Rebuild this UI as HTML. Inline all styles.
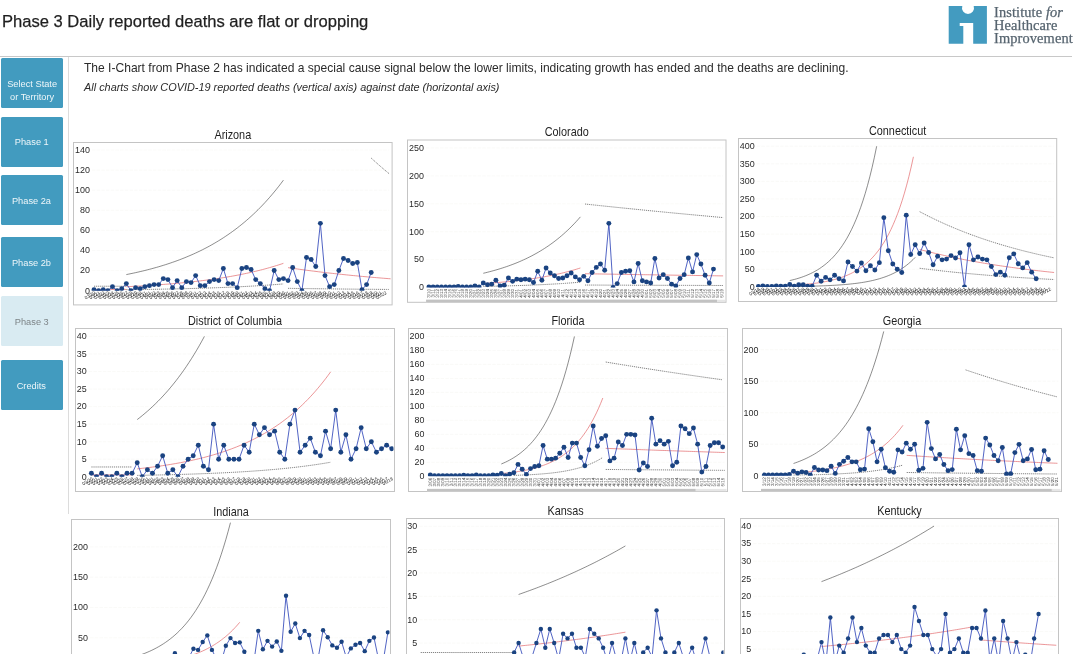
<!DOCTYPE html>
<html lang="en">
<head>
<meta charset="utf-8">
<title>Phase 3 Daily reported deaths are flat or dropping</title>
<style>
html,body{margin:0;padding:0;background:#fff;}
body{width:1080px;height:654px;overflow:hidden;position:relative;font-family:"Liberation Sans",sans-serif;color:#252423;}
.title{position:absolute;left:2.2px;top:11.3px;font-size:17.4px;line-height:20px;white-space:nowrap;color:#1f1f1f;-webkit-text-stroke:0.25px #1f1f1f;transform:scaleX(0.952);transform-origin:0 0;}
.hr{position:absolute;left:0;top:55.5px;width:1072px;height:1px;background:#c8c8c8;}
.vr{position:absolute;left:67.5px;top:57px;width:1.2px;height:456.5px;background:#dcdcdc;}
.btn{position:absolute;left:0.8px;width:61.8px;height:50.1px;border-radius:1.5px;background:#429bbf;color:#eef6f9;font-size:9.7px;line-height:13.5px;text-align:center;display:flex;align-items:center;justify-content:center;}
.btn span{display:block;transform:scaleX(0.955);white-space:nowrap;position:relative;top:0.7px;}
.btn.sel{background:#d9ebf2;color:#7d8487;}
.p1{position:absolute;left:84px;top:61.2px;font-size:12.2px;line-height:14px;white-space:nowrap;color:#2b2b2b;transform:scaleX(0.989);transform-origin:0 0;}
.p2{position:absolute;left:84px;top:81.2px;font-size:11.2px;line-height:13px;white-space:nowrap;font-style:italic;color:#2b2b2b;transform:scaleX(0.974);transform-origin:0 0;}
.logo{position:absolute;left:940px;top:0;}
.lt{position:absolute;left:994px;top:5.6px;font-family:"Liberation Serif",serif;font-size:14.4px;line-height:13.3px;letter-spacing:0.12px;color:#56646f;white-space:nowrap;-webkit-text-stroke:0.25px #56646f;}
.lt i{letter-spacing:0;}
svg.charts{position:absolute;left:0;top:0;}
.ct{font-size:12.2px;fill:#1f1f1f;font-family:"Liberation Sans",sans-serif;}
.yl{font-size:9.5px;fill:#2a2a2a;font-family:"Liberation Sans",sans-serif;}
.xl{font-size:4.6px;fill:#1a1a1a;text-rendering:geometricPrecision;font-family:"Liberation Sans",sans-serif;}
.xv{font-size:4.5px;fill:#3a3a3a;text-rendering:geometricPrecision;font-family:"Liberation Sans",sans-serif;}
.g{stroke:#f7f6f4;stroke-width:0.6;stroke-dasharray:3.5 1.2;}
.ul,.ll{fill:none;stroke:#2e2e2e;stroke-width:0.55;}
.cl{fill:none;stroke:#e2696b;stroke-width:0.7;}
.dt{stroke-dasharray:1.2 0.84;stroke-width:0.75;stroke:#5a5a5a;}
.dl{fill:none;stroke:#3d52bd;stroke-width:0.9;stroke-linejoin:round;}
circle{fill:#1a4381;}
</style>
</head>
<body>
<div class="title">Phase 3 Daily reported deaths are flat or dropping</div>
<svg class="logo" width="140" height="56" viewBox="940 0 140 56" aria-label="Institute for Healthcare Improvement logo">
<path fill="#439bc0" d="M948.7 6.1H962.3A6 6 0 1 0 973.7 6.1H986.9V43.7H973.2V23.1H959.7V26H963.3V43.7H948.7Z"/>
</svg>
<div class="lt">Institute <i>for</i><br>Healthcare<br>Improvement</div>
<div class="hr"></div>
<div class="vr"></div>

<div class="btn" style="top:57.8px"><span style="position:relative;top:7.6px">Select State<br>or Territory</span></div>
<div class="btn" style="top:116.5px"><span>Phase 1</span></div>
<div class="btn" style="top:175.2px"><span>Phase 2a</span></div>
<div class="btn" style="top:236.7px"><span>Phase 2b</span></div>
<div class="btn sel" style="top:296px"><span>Phase 3</span></div>
<div class="btn" style="top:360.3px"><span>Credits</span></div>
<div class="p1">The I-Chart from Phase 2 has indicated a special cause signal below the lower limits, indicating growth has ended and the deaths are declining.</div>
<div class="p2">All charts show COVID-19 reported deaths (vertical axis) against date (horizontal axis)</div>
<svg class="charts" width="1080" height="654" viewBox="0 0 1080 654">
<g>
<clipPath id="c0"><rect x="73.5" y="143.5" width="317.6" height="147.15"/></clipPath>
<text class="ct" transform="translate(232.8,138.9) scale(0.89,1)" text-anchor="middle">Arizona</text>
<rect x="73.5" y="142.5" width="318.6" height="162.4" fill="#fff" stroke="#c4c4c4" stroke-width="1"/>
<text class="yl" transform="translate(89.9,293.5) scale(0.94,1)" text-anchor="end">0</text>
<line class="g" x1="91.9" x2="389.1" y1="270.56" y2="270.56"/>
<text class="yl" transform="translate(89.9,273.41) scale(0.94,1)" text-anchor="end">20</text>
<line class="g" x1="91.9" x2="389.1" y1="250.47" y2="250.47"/>
<text class="yl" transform="translate(89.9,253.32) scale(0.94,1)" text-anchor="end">40</text>
<line class="g" x1="91.9" x2="389.1" y1="230.38" y2="230.38"/>
<text class="yl" transform="translate(89.9,233.23) scale(0.94,1)" text-anchor="end">60</text>
<line class="g" x1="91.9" x2="389.1" y1="210.29" y2="210.29"/>
<text class="yl" transform="translate(89.9,213.14) scale(0.94,1)" text-anchor="end">80</text>
<line class="g" x1="91.9" x2="389.1" y1="190.2" y2="190.2"/>
<text class="yl" transform="translate(89.9,193.05) scale(0.94,1)" text-anchor="end">100</text>
<line class="g" x1="91.9" x2="389.1" y1="170.11" y2="170.11"/>
<text class="yl" transform="translate(89.9,172.96) scale(0.94,1)" text-anchor="end">120</text>
<line class="g" x1="91.9" x2="389.1" y1="150.02" y2="150.02"/>
<text class="yl" transform="translate(89.9,152.87) scale(0.94,1)" text-anchor="end">140</text>
<text class="xl" text-anchor="end" transform="translate(95.8,293.65) rotate(-30)">03/20</text>
<text class="xl" text-anchor="end" transform="translate(100.42,293.65) rotate(-30)">03/21</text>
<text class="xl" text-anchor="end" transform="translate(105.04,293.65) rotate(-30)">03/22</text>
<text class="xl" text-anchor="end" transform="translate(109.66,293.65) rotate(-30)">03/23</text>
<text class="xl" text-anchor="end" transform="translate(114.28,293.65) rotate(-30)">03/24</text>
<text class="xl" text-anchor="end" transform="translate(118.9,293.65) rotate(-30)">03/25</text>
<text class="xl" text-anchor="end" transform="translate(123.52,293.65) rotate(-30)">03/26</text>
<text class="xl" text-anchor="end" transform="translate(128.14,293.65) rotate(-30)">03/27</text>
<text class="xl" text-anchor="end" transform="translate(132.76,293.65) rotate(-30)">03/28</text>
<text class="xl" text-anchor="end" transform="translate(137.38,293.65) rotate(-30)">03/29</text>
<text class="xl" text-anchor="end" transform="translate(142,293.65) rotate(-30)">03/30</text>
<text class="xl" text-anchor="end" transform="translate(146.62,293.65) rotate(-30)">03/31</text>
<text class="xl" text-anchor="end" transform="translate(151.24,293.65) rotate(-30)">04/01</text>
<text class="xl" text-anchor="end" transform="translate(155.86,293.65) rotate(-30)">04/02</text>
<text class="xl" text-anchor="end" transform="translate(160.48,293.65) rotate(-30)">04/03</text>
<text class="xl" text-anchor="end" transform="translate(165.1,293.65) rotate(-30)">04/04</text>
<text class="xl" text-anchor="end" transform="translate(169.72,293.65) rotate(-30)">04/05</text>
<text class="xl" text-anchor="end" transform="translate(174.34,293.65) rotate(-30)">04/06</text>
<text class="xl" text-anchor="end" transform="translate(178.96,293.65) rotate(-30)">04/07</text>
<text class="xl" text-anchor="end" transform="translate(183.58,293.65) rotate(-30)">04/08</text>
<text class="xl" text-anchor="end" transform="translate(188.2,293.65) rotate(-30)">04/09</text>
<text class="xl" text-anchor="end" transform="translate(192.82,293.65) rotate(-30)">04/10</text>
<text class="xl" text-anchor="end" transform="translate(197.44,293.65) rotate(-30)">04/11</text>
<text class="xl" text-anchor="end" transform="translate(202.06,293.65) rotate(-30)">04/12</text>
<text class="xl" text-anchor="end" transform="translate(206.68,293.65) rotate(-30)">04/13</text>
<text class="xl" text-anchor="end" transform="translate(211.3,293.65) rotate(-30)">04/14</text>
<text class="xl" text-anchor="end" transform="translate(215.92,293.65) rotate(-30)">04/15</text>
<text class="xl" text-anchor="end" transform="translate(220.54,293.65) rotate(-30)">04/16</text>
<text class="xl" text-anchor="end" transform="translate(225.16,293.65) rotate(-30)">04/17</text>
<text class="xl" text-anchor="end" transform="translate(229.78,293.65) rotate(-30)">04/18</text>
<text class="xl" text-anchor="end" transform="translate(234.4,293.65) rotate(-30)">04/19</text>
<text class="xl" text-anchor="end" transform="translate(239.02,293.65) rotate(-30)">04/20</text>
<text class="xl" text-anchor="end" transform="translate(243.64,293.65) rotate(-30)">04/21</text>
<text class="xl" text-anchor="end" transform="translate(248.26,293.65) rotate(-30)">04/22</text>
<text class="xl" text-anchor="end" transform="translate(252.88,293.65) rotate(-30)">04/23</text>
<text class="xl" text-anchor="end" transform="translate(257.5,293.65) rotate(-30)">04/24</text>
<text class="xl" text-anchor="end" transform="translate(262.12,293.65) rotate(-30)">04/25</text>
<text class="xl" text-anchor="end" transform="translate(266.74,293.65) rotate(-30)">04/26</text>
<text class="xl" text-anchor="end" transform="translate(271.36,293.65) rotate(-30)">04/27</text>
<text class="xl" text-anchor="end" transform="translate(275.98,293.65) rotate(-30)">04/28</text>
<text class="xl" text-anchor="end" transform="translate(280.6,293.65) rotate(-30)">04/29</text>
<text class="xl" text-anchor="end" transform="translate(285.22,293.65) rotate(-30)">04/30</text>
<text class="xl" text-anchor="end" transform="translate(289.84,293.65) rotate(-30)">05/01</text>
<text class="xl" text-anchor="end" transform="translate(294.46,293.65) rotate(-30)">05/02</text>
<text class="xl" text-anchor="end" transform="translate(299.08,293.65) rotate(-30)">05/03</text>
<text class="xl" text-anchor="end" transform="translate(303.7,293.65) rotate(-30)">05/04</text>
<text class="xl" text-anchor="end" transform="translate(308.32,293.65) rotate(-30)">05/05</text>
<text class="xl" text-anchor="end" transform="translate(312.94,293.65) rotate(-30)">05/06</text>
<text class="xl" text-anchor="end" transform="translate(317.56,293.65) rotate(-30)">05/07</text>
<text class="xl" text-anchor="end" transform="translate(322.18,293.65) rotate(-30)">05/08</text>
<text class="xl" text-anchor="end" transform="translate(326.8,293.65) rotate(-30)">05/09</text>
<text class="xl" text-anchor="end" transform="translate(331.42,293.65) rotate(-30)">05/10</text>
<text class="xl" text-anchor="end" transform="translate(336.04,293.65) rotate(-30)">05/11</text>
<text class="xl" text-anchor="end" transform="translate(340.66,293.65) rotate(-30)">05/12</text>
<text class="xl" text-anchor="end" transform="translate(345.28,293.65) rotate(-30)">05/13</text>
<text class="xl" text-anchor="end" transform="translate(349.9,293.65) rotate(-30)">05/14</text>
<text class="xl" text-anchor="end" transform="translate(354.52,293.65) rotate(-30)">05/15</text>
<text class="xl" text-anchor="end" transform="translate(359.14,293.65) rotate(-30)">05/16</text>
<text class="xl" text-anchor="end" transform="translate(363.76,293.65) rotate(-30)">05/17</text>
<text class="xl" text-anchor="end" transform="translate(368.38,293.65) rotate(-30)">05/18</text>
<text class="xl" text-anchor="end" transform="translate(373,293.65) rotate(-30)">05/19</text>
<text class="xl" text-anchor="end" transform="translate(377.62,293.65) rotate(-30)">05/20</text>
<text class="xl" text-anchor="end" transform="translate(382.24,293.65) rotate(-30)">05/21</text>
<text class="xl" text-anchor="end" transform="translate(386.86,293.65) rotate(-30)">05/22</text>
<g clip-path="url(#c0)">
<path class="ul dt" d="M94 286.23 L126.34 286.23"/>
<path class="cl" d="M94 289.44 L126.34 289.44"/>
<path class="ul" d="M126.34 274.58 L128.65 274.12 L130.96 273.64 L133.27 273.15 L135.58 272.65 L137.89 272.13 L140.2 271.6 L142.51 271.05 L144.82 270.49 L147.13 269.91 L149.44 269.31 L151.75 268.7 L154.06 268.06 L156.37 267.42 L158.68 266.75 L160.99 266.06 L163.3 265.35 L165.61 264.63 L167.92 263.88 L170.23 263.11 L172.54 262.31 L174.85 261.5 L177.16 260.66 L179.47 259.8 L181.78 258.91 L184.09 258 L186.4 257.06 L188.71 256.09 L191.02 255.1 L193.33 254.08 L195.64 253.03 L197.95 251.94 L200.26 250.83 L202.57 249.69 L204.88 248.51 L207.19 247.3 L209.5 246.05 L211.81 244.77 L214.12 243.45 L216.43 242.09 L218.74 240.69 L221.05 239.26 L223.36 237.78 L225.67 236.26 L227.98 234.7 L230.29 233.09 L232.6 231.43 L234.91 229.73 L237.22 227.98 L239.53 226.17 L241.84 224.32 L244.15 222.41 L246.46 220.45 L248.77 218.43 L251.08 216.35 L253.39 214.22 L255.7 212.02 L258.01 209.76 L260.32 207.43 L262.63 205.04 L264.94 202.58 L267.25 200.04 L269.56 197.44 L271.87 194.76 L274.18 192 L276.49 189.16 L278.8 186.25 L281.11 183.24 L283.42 180.15"/>
<path class="cl" d="M126.34 286.73 L128.65 286.62 L130.96 286.5 L133.27 286.38 L135.58 286.26 L137.89 286.13 L140.2 286 L142.51 285.87 L144.82 285.73 L147.13 285.58 L149.44 285.44 L151.75 285.29 L154.06 285.13 L156.37 284.97 L158.68 284.81 L160.99 284.64 L163.3 284.46 L165.61 284.28 L167.92 284.1 L170.23 283.91 L172.54 283.71 L174.85 283.51 L177.16 283.31 L179.47 283.09 L181.78 282.87 L184.09 282.65 L186.4 282.42 L188.71 282.18 L191.02 281.93 L193.33 281.68 L195.64 281.42 L197.95 281.15 L200.26 280.88 L202.57 280.6 L204.88 280.3 L207.19 280 L209.5 279.7 L211.81 279.38 L214.12 279.05 L216.43 278.72 L218.74 278.37 L221.05 278.01 L223.36 277.65 L225.67 277.27 L227.98 276.88 L230.29 276.49 L232.6 276.07 L234.91 275.65 L237.22 275.22 L239.53 274.77 L241.84 274.31 L244.15 273.84 L246.46 273.35 L248.77 272.85 L251.08 272.33 L253.39 271.8 L255.7 271.26 L258.01 270.69 L260.32 270.12 L262.63 269.52 L264.94 268.91 L267.25 268.28 L269.56 267.63 L271.87 266.96 L274.18 266.28 L276.49 265.57 L278.8 264.84 L281.11 264.1 L283.42 263.33"/>
<path class="ll dt" d="M126.34 289.7 L128.65 289.67 L130.96 289.64 L133.27 289.61 L135.58 289.58 L137.89 289.55 L140.2 289.52 L142.51 289.48 L144.82 289.45 L147.13 289.41 L149.44 289.38 L151.75 289.34 L154.06 289.3 L156.37 289.26 L158.68 289.22 L160.99 289.18 L163.3 289.14 L165.61 289.09 L167.92 289.05 L170.23 289 L172.54 288.95 L174.85 288.91 L177.16 288.85 L179.47 288.8 L181.78 288.75 L184.09 288.69 L186.4 288.64 L188.71 288.58 L191.02 288.52 L193.33 288.45 L195.64 288.39 L197.95 288.33 L200.26 288.26 L202.57 288.19 L204.88 288.12 L207.19 288.04 L209.5 287.97 L211.81 287.89 L214.12 287.81 L216.43 287.72 L218.74 287.64 L221.05 287.55 L223.36 287.46 L225.67 287.37 L227.98 287.27 L230.29 287.17 L232.6 287.07 L234.91 286.97 L237.22 286.86 L239.53 286.75 L241.84 286.64 L244.15 286.52 L246.46 286.4 L248.77 286.28 L251.08 286.15 L253.39 286.02 L255.7 285.88 L258.01 285.74 L260.32 285.6 L262.63 285.45 L264.94 285.3 L267.25 285.15 L269.56 284.99 L271.87 284.82 L274.18 284.65 L276.49 284.48 L278.8 284.3 L281.11 284.11 L283.42 283.92"/>
<path class="ul dt" d="M371.2 158.06 L373.51 160.18 L375.82 162.27 L378.13 164.33 L380.44 166.35 L382.75 168.34 L385.06 170.3 L387.37 172.23 L389.68 174.13"/>
<path class="cl" d="M288.04 267.65 L290.37 267.99 L292.7 268.33 L295.03 268.66 L297.36 268.99 L299.7 269.32 L302.03 269.64 L304.36 269.95 L306.69 270.26 L309.02 270.56 L311.35 270.86 L313.68 271.16 L316.01 271.45 L318.34 271.74 L320.67 272.02 L323 272.3 L325.34 272.58 L327.67 272.85 L330 273.11 L332.33 273.37 L334.66 273.63 L336.99 273.89 L339.32 274.14 L341.65 274.38 L343.98 274.63 L346.32 274.87 L348.65 275.1 L350.98 275.34 L353.31 275.57 L355.64 275.79 L357.97 276.01 L360.3 276.23 L362.63 276.45 L364.96 276.66 L367.29 276.87 L369.62 277.08 L371.96 277.28 L374.29 277.48 L376.62 277.68 L378.95 277.87 L381.28 278.06 L383.61 278.25 L385.94 278.43 L388.27 278.62 L390.6 278.8"/>
<path class="ll dt" d="M288.04 288.34 L290.38 288.37 L292.72 288.41 L295.07 288.44 L297.41 288.48 L299.75 288.51 L302.09 288.54 L304.44 288.57 L306.78 288.6 L309.12 288.63 L311.46 288.66 L313.8 288.69 L316.15 288.72 L318.49 288.75 L320.83 288.78 L323.17 288.81 L325.52 288.84 L327.86 288.86 L330.2 288.89 L332.54 288.92 L334.88 288.94 L337.23 288.97 L339.57 288.99 L341.91 289.02 L344.25 289.04 L346.6 289.07 L348.94 289.09 L351.28 289.11 L353.62 289.14 L355.96 289.16 L358.31 289.18 L360.65 289.2 L362.99 289.23 L365.33 289.25 L367.68 289.27 L370.02 289.29 L372.36 289.31 L374.7 289.33 L377.04 289.35 L379.39 289.37 L381.73 289.39 L384.07 289.41 L386.41 289.43 L388.76 289.44"/>
<polyline class="dl" points="94,289.65 98.62,290.65 103.24,289.65 107.86,290.65 112.48,286.63 117.1,290.65 121.72,288.64 126.34,283.62 130.96,290.65 135.58,287.64 140.2,288.64 144.82,286.63 149.44,285.63 154.06,284.62 158.68,284.62 163.3,278.6 167.92,279.6 172.54,287.64 177.16,280.6 181.78,287.64 186.4,281.61 191.02,282.61 195.64,275.58 200.26,285.63 204.88,285.63 209.5,281.61 214.12,279.6 218.74,280.6 223.36,268.55 227.98,283.62 232.6,283.62 237.22,287.64 241.84,268.55 246.46,267.55 251.08,269.56 255.7,279.6 260.32,283.62 264.94,288.64 269.56,290.65 274.18,270.56 278.8,279.6 283.42,278.6 288.04,280.6 292.66,267.55 297.28,281.61 301.9,290.65 306.52,257.5 311.14,259.51 315.76,266.54 320.38,223.35 325,275.58 329.62,286.63 334.24,284.62 338.86,270.56 343.48,258.51 348.1,260.51 352.72,263.53 357.34,262.52 361.96,289.65 366.58,284.62 371.2,272.57"/>
<circle cx="94" cy="289.65" r="2.45"/>
<circle cx="98.62" cy="290.65" r="2.45"/>
<circle cx="103.24" cy="289.65" r="2.45"/>
<circle cx="107.86" cy="290.65" r="2.45"/>
<circle cx="112.48" cy="286.63" r="2.45"/>
<circle cx="117.1" cy="290.65" r="2.45"/>
<circle cx="121.72" cy="288.64" r="2.45"/>
<circle cx="126.34" cy="283.62" r="2.45"/>
<circle cx="130.96" cy="290.65" r="2.45"/>
<circle cx="135.58" cy="287.64" r="2.45"/>
<circle cx="140.2" cy="288.64" r="2.45"/>
<circle cx="144.82" cy="286.63" r="2.45"/>
<circle cx="149.44" cy="285.63" r="2.45"/>
<circle cx="154.06" cy="284.62" r="2.45"/>
<circle cx="158.68" cy="284.62" r="2.45"/>
<circle cx="163.3" cy="278.6" r="2.45"/>
<circle cx="167.92" cy="279.6" r="2.45"/>
<circle cx="172.54" cy="287.64" r="2.45"/>
<circle cx="177.16" cy="280.6" r="2.45"/>
<circle cx="181.78" cy="287.64" r="2.45"/>
<circle cx="186.4" cy="281.61" r="2.45"/>
<circle cx="191.02" cy="282.61" r="2.45"/>
<circle cx="195.64" cy="275.58" r="2.45"/>
<circle cx="200.26" cy="285.63" r="2.45"/>
<circle cx="204.88" cy="285.63" r="2.45"/>
<circle cx="209.5" cy="281.61" r="2.45"/>
<circle cx="214.12" cy="279.6" r="2.45"/>
<circle cx="218.74" cy="280.6" r="2.45"/>
<circle cx="223.36" cy="268.55" r="2.45"/>
<circle cx="227.98" cy="283.62" r="2.45"/>
<circle cx="232.6" cy="283.62" r="2.45"/>
<circle cx="237.22" cy="287.64" r="2.45"/>
<circle cx="241.84" cy="268.55" r="2.45"/>
<circle cx="246.46" cy="267.55" r="2.45"/>
<circle cx="251.08" cy="269.56" r="2.45"/>
<circle cx="255.7" cy="279.6" r="2.45"/>
<circle cx="260.32" cy="283.62" r="2.45"/>
<circle cx="264.94" cy="288.64" r="2.45"/>
<circle cx="269.56" cy="290.65" r="2.45"/>
<circle cx="274.18" cy="270.56" r="2.45"/>
<circle cx="278.8" cy="279.6" r="2.45"/>
<circle cx="283.42" cy="278.6" r="2.45"/>
<circle cx="288.04" cy="280.6" r="2.45"/>
<circle cx="292.66" cy="267.55" r="2.45"/>
<circle cx="297.28" cy="281.61" r="2.45"/>
<circle cx="301.9" cy="290.65" r="2.45"/>
<circle cx="306.52" cy="257.5" r="2.45"/>
<circle cx="311.14" cy="259.51" r="2.45"/>
<circle cx="315.76" cy="266.54" r="2.45"/>
<circle cx="320.38" cy="223.35" r="2.45"/>
<circle cx="325" cy="275.58" r="2.45"/>
<circle cx="329.62" cy="286.63" r="2.45"/>
<circle cx="334.24" cy="284.62" r="2.45"/>
<circle cx="338.86" cy="270.56" r="2.45"/>
<circle cx="343.48" cy="258.51" r="2.45"/>
<circle cx="348.1" cy="260.51" r="2.45"/>
<circle cx="352.72" cy="263.53" r="2.45"/>
<circle cx="357.34" cy="262.52" r="2.45"/>
<circle cx="361.96" cy="289.65" r="2.45"/>
<circle cx="366.58" cy="284.62" r="2.45"/>
<circle cx="371.2" cy="272.57" r="2.45"/>
</g>
</g>
<g>
<clipPath id="c1"><rect x="407.5" y="141" width="317.5" height="146.5"/></clipPath>
<text class="ct" transform="translate(566.75,136.4) scale(0.89,1)" text-anchor="middle">Colorado</text>
<rect x="407.5" y="140" width="318.5" height="162.3" fill="#fff" stroke="#c4c4c4" stroke-width="1"/>
<text class="yl" transform="translate(423.9,290.35) scale(0.94,1)" text-anchor="end">0</text>
<line class="g" x1="425.9" x2="723" y1="259.6" y2="259.6"/>
<text class="yl" transform="translate(423.9,262.45) scale(0.94,1)" text-anchor="end">50</text>
<line class="g" x1="425.9" x2="723" y1="231.7" y2="231.7"/>
<text class="yl" transform="translate(423.9,234.55) scale(0.94,1)" text-anchor="end">100</text>
<line class="g" x1="425.9" x2="723" y1="203.8" y2="203.8"/>
<text class="yl" transform="translate(423.9,206.65) scale(0.94,1)" text-anchor="end">150</text>
<line class="g" x1="425.9" x2="723" y1="175.9" y2="175.9"/>
<text class="yl" transform="translate(423.9,178.75) scale(0.94,1)" text-anchor="end">200</text>
<line class="g" x1="425.9" x2="723" y1="148" y2="148"/>
<text class="yl" transform="translate(423.9,150.85) scale(0.94,1)" text-anchor="end">250</text>
<text class="xv" text-anchor="end" transform="translate(430.4,289) rotate(-89.6)">3/10</text>
<text class="xv" text-anchor="end" transform="translate(434.58,289) rotate(-89.6)">3/11</text>
<text class="xv" text-anchor="end" transform="translate(438.77,289) rotate(-89.6)">3/12</text>
<text class="xv" text-anchor="end" transform="translate(442.95,289) rotate(-89.6)">3/13</text>
<text class="xv" text-anchor="end" transform="translate(447.14,289) rotate(-89.6)">3/14</text>
<text class="xv" text-anchor="end" transform="translate(451.32,289) rotate(-89.6)">3/15</text>
<text class="xv" text-anchor="end" transform="translate(455.51,289) rotate(-89.6)">3/16</text>
<text class="xv" text-anchor="end" transform="translate(459.69,289) rotate(-89.6)">3/17</text>
<text class="xv" text-anchor="end" transform="translate(463.88,289) rotate(-89.6)">3/18</text>
<text class="xv" text-anchor="end" transform="translate(468.06,289) rotate(-89.6)">3/19</text>
<text class="xv" text-anchor="end" transform="translate(472.25,289) rotate(-89.6)">3/20</text>
<text class="xv" text-anchor="end" transform="translate(476.43,289) rotate(-89.6)">3/21</text>
<text class="xv" text-anchor="end" transform="translate(480.62,289) rotate(-89.6)">3/22</text>
<text class="xv" text-anchor="end" transform="translate(484.8,289) rotate(-89.6)">3/23</text>
<text class="xv" text-anchor="end" transform="translate(488.99,289) rotate(-89.6)">3/24</text>
<text class="xv" text-anchor="end" transform="translate(493.17,289) rotate(-89.6)">3/25</text>
<text class="xv" text-anchor="end" transform="translate(497.36,289) rotate(-89.6)">3/26</text>
<text class="xv" text-anchor="end" transform="translate(501.54,289) rotate(-89.6)">3/27</text>
<text class="xv" text-anchor="end" transform="translate(505.73,289) rotate(-89.6)">3/28</text>
<text class="xv" text-anchor="end" transform="translate(509.91,289) rotate(-89.6)">3/29</text>
<text class="xv" text-anchor="end" transform="translate(514.1,289) rotate(-89.6)">3/30</text>
<text class="xv" text-anchor="end" transform="translate(518.28,289) rotate(-89.6)">3/31</text>
<text class="xv" text-anchor="end" transform="translate(522.47,289) rotate(-89.6)">4/01</text>
<text class="xv" text-anchor="end" transform="translate(526.65,289) rotate(-89.6)">4/02</text>
<text class="xv" text-anchor="end" transform="translate(530.84,289) rotate(-89.6)">4/03</text>
<text class="xv" text-anchor="end" transform="translate(535.02,289) rotate(-89.6)">4/04</text>
<text class="xv" text-anchor="end" transform="translate(539.21,289) rotate(-89.6)">4/05</text>
<text class="xv" text-anchor="end" transform="translate(543.39,289) rotate(-89.6)">4/06</text>
<text class="xv" text-anchor="end" transform="translate(547.58,289) rotate(-89.6)">4/07</text>
<text class="xv" text-anchor="end" transform="translate(551.76,289) rotate(-89.6)">4/08</text>
<text class="xv" text-anchor="end" transform="translate(555.95,289) rotate(-89.6)">4/09</text>
<text class="xv" text-anchor="end" transform="translate(560.13,289) rotate(-89.6)">4/10</text>
<text class="xv" text-anchor="end" transform="translate(564.32,289) rotate(-89.6)">4/11</text>
<text class="xv" text-anchor="end" transform="translate(568.5,289) rotate(-89.6)">4/12</text>
<text class="xv" text-anchor="end" transform="translate(572.69,289) rotate(-89.6)">4/13</text>
<text class="xv" text-anchor="end" transform="translate(576.88,289) rotate(-89.6)">4/14</text>
<text class="xv" text-anchor="end" transform="translate(581.06,289) rotate(-89.6)">4/15</text>
<text class="xv" text-anchor="end" transform="translate(585.25,289) rotate(-89.6)">4/16</text>
<text class="xv" text-anchor="end" transform="translate(589.43,289) rotate(-89.6)">4/17</text>
<text class="xv" text-anchor="end" transform="translate(593.62,289) rotate(-89.6)">4/18</text>
<text class="xv" text-anchor="end" transform="translate(597.8,289) rotate(-89.6)">4/19</text>
<text class="xv" text-anchor="end" transform="translate(601.98,289) rotate(-89.6)">4/20</text>
<text class="xv" text-anchor="end" transform="translate(606.17,289) rotate(-89.6)">4/21</text>
<text class="xv" text-anchor="end" transform="translate(610.36,289) rotate(-89.6)">4/22</text>
<text class="xv" text-anchor="end" transform="translate(614.54,289) rotate(-89.6)">4/23</text>
<text class="xv" text-anchor="end" transform="translate(618.72,289) rotate(-89.6)">4/24</text>
<text class="xv" text-anchor="end" transform="translate(622.91,289) rotate(-89.6)">4/25</text>
<text class="xv" text-anchor="end" transform="translate(627.1,289) rotate(-89.6)">4/26</text>
<text class="xv" text-anchor="end" transform="translate(631.28,289) rotate(-89.6)">4/27</text>
<text class="xv" text-anchor="end" transform="translate(635.46,289) rotate(-89.6)">4/28</text>
<text class="xv" text-anchor="end" transform="translate(639.65,289) rotate(-89.6)">4/29</text>
<text class="xv" text-anchor="end" transform="translate(643.83,289) rotate(-89.6)">4/30</text>
<text class="xv" text-anchor="end" transform="translate(648.02,289) rotate(-89.6)">5/01</text>
<text class="xv" text-anchor="end" transform="translate(652.2,289) rotate(-89.6)">5/02</text>
<text class="xv" text-anchor="end" transform="translate(656.39,289) rotate(-89.6)">5/03</text>
<text class="xv" text-anchor="end" transform="translate(660.57,289) rotate(-89.6)">5/04</text>
<text class="xv" text-anchor="end" transform="translate(664.76,289) rotate(-89.6)">5/05</text>
<text class="xv" text-anchor="end" transform="translate(668.94,289) rotate(-89.6)">5/06</text>
<text class="xv" text-anchor="end" transform="translate(673.13,289) rotate(-89.6)">5/07</text>
<text class="xv" text-anchor="end" transform="translate(677.31,289) rotate(-89.6)">5/08</text>
<text class="xv" text-anchor="end" transform="translate(681.5,289) rotate(-89.6)">5/09</text>
<text class="xv" text-anchor="end" transform="translate(685.68,289) rotate(-89.6)">5/10</text>
<text class="xv" text-anchor="end" transform="translate(689.87,289) rotate(-89.6)">5/11</text>
<text class="xv" text-anchor="end" transform="translate(694.05,289) rotate(-89.6)">5/12</text>
<text class="xv" text-anchor="end" transform="translate(698.24,289) rotate(-89.6)">5/13</text>
<text class="xv" text-anchor="end" transform="translate(702.42,289) rotate(-89.6)">5/14</text>
<text class="xv" text-anchor="end" transform="translate(706.61,289) rotate(-89.6)">5/15</text>
<text class="xv" text-anchor="end" transform="translate(710.79,289) rotate(-89.6)">5/16</text>
<text class="xv" text-anchor="end" transform="translate(714.98,289) rotate(-89.6)">5/17</text>
<text class="xv" text-anchor="end" transform="translate(719.16,289) rotate(-89.6)">5/18</text>
<text class="xv" text-anchor="end" transform="translate(723.35,289) rotate(-89.6)">5/19</text>
<rect x="426.1" y="299.7" width="298.9" height="2.4" fill="#e6e6e6"/>
<rect x="426.1" y="299.7" width="290.9" height="2.4" fill="#c2c2c2"/>
<g clip-path="url(#c1)">
<path class="ul" d="M483.3 273.27 L485.42 272.77 L487.53 272.24 L489.64 271.7 L491.75 271.14 L493.86 270.56 L495.97 269.96 L498.08 269.34 L500.19 268.7 L502.3 268.03 L504.41 267.34 L506.52 266.63 L508.63 265.89 L510.74 265.12 L512.85 264.33 L514.97 263.51 L517.08 262.66 L519.19 261.78 L521.3 260.86 L523.41 259.92 L525.52 258.94 L527.63 257.93 L529.74 256.88 L531.85 255.8 L533.96 254.67 L536.07 253.51 L538.18 252.3 L540.29 251.06 L542.4 249.76 L544.52 248.43 L546.63 247.04 L548.74 245.61 L550.85 244.12 L552.96 242.58 L555.07 240.99 L557.18 239.34 L559.29 237.64 L561.4 235.87 L563.51 234.04 L565.62 232.14 L567.73 230.18 L569.84 228.15 L571.95 226.05 L574.06 223.87 L576.18 221.61 L578.29 219.28 L580.4 216.86"/>
<path class="cl" d="M483.3 283.59 L485.42 283.45 L487.53 283.31 L489.64 283.16 L491.75 283.01 L493.86 282.85 L495.97 282.68 L498.08 282.51 L500.19 282.33 L502.3 282.15 L504.41 281.96 L506.52 281.76 L508.63 281.56 L510.74 281.34 L512.85 281.13 L514.97 280.9 L517.08 280.66 L519.19 280.42 L521.3 280.17 L523.41 279.91 L525.52 279.64 L527.63 279.36 L529.74 279.07 L531.85 278.77 L533.96 278.45 L536.07 278.13 L538.18 277.8 L540.29 277.45 L542.4 277.1 L544.52 276.73 L546.63 276.34 L548.74 275.94 L550.85 275.53 L552.96 275.11 L555.07 274.67 L557.18 274.21 L559.29 273.74 L561.4 273.25 L563.51 272.74 L565.62 272.21 L567.73 271.67 L569.84 271.1 L571.95 270.52 L574.06 269.92 L576.18 269.29 L578.29 268.64 L580.4 267.97"/>
<path class="ll dt" d="M483.3 286.41 L485.42 286.37 L487.53 286.33 L489.64 286.29 L491.75 286.25 L493.86 286.21 L495.97 286.16 L498.08 286.11 L500.19 286.06 L502.3 286.01 L504.41 285.96 L506.52 285.91 L508.63 285.85 L510.74 285.79 L512.85 285.73 L514.97 285.67 L517.08 285.61 L519.19 285.54 L521.3 285.47 L523.41 285.4 L525.52 285.32 L527.63 285.25 L529.74 285.17 L531.85 285.09 L533.96 285 L536.07 284.91 L538.18 284.82 L540.29 284.73 L542.4 284.63 L544.52 284.53 L546.63 284.42 L548.74 284.31 L550.85 284.2 L552.96 284.09 L555.07 283.97 L557.18 283.84 L559.29 283.71 L561.4 283.58 L563.51 283.44 L565.62 283.3 L567.73 283.15 L569.84 283 L571.95 282.84 L574.06 282.67 L576.18 282.5 L578.29 282.33 L580.4 282.14"/>
<path class="ul dt" d="M585 204.02 L587.09 204.25 L589.19 204.47 L591.28 204.69 L593.37 204.92 L595.46 205.14 L597.56 205.36 L599.65 205.58 L601.74 205.8 L603.83 206.02 L605.93 206.24 L608.02 206.45 L610.11 206.67 L612.2 206.89 L614.3 207.1 L616.39 207.32 L618.48 207.53 L620.57 207.75 L622.67 207.96 L624.76 208.18 L626.85 208.39 L628.94 208.6 L631.04 208.81 L633.13 209.02 L635.22 209.23 L637.31 209.44 L639.41 209.65 L641.5 209.86 L643.59 210.07 L645.68 210.28 L647.78 210.49 L649.87 210.69 L651.96 210.9 L654.05 211.1 L656.15 211.31 L658.24 211.51 L660.33 211.72 L662.42 211.92 L664.52 212.12 L666.61 212.32 L668.7 212.53 L670.79 212.73 L672.89 212.93 L674.98 213.13 L677.07 213.33 L679.16 213.53 L681.26 213.72 L683.35 213.92 L685.44 214.12 L687.53 214.32 L689.63 214.51 L691.72 214.71 L693.81 214.9 L695.9 215.1 L698 215.29 L700.09 215.49 L702.18 215.68 L704.27 215.87 L706.37 216.06 L708.46 216.26 L710.55 216.45 L712.64 216.64 L714.74 216.83 L716.83 217.02 L718.92 217.21 L721.01 217.39 L723.11 217.58"/>
<path class="cl" d="M585 273.72 L587.09 273.75 L589.19 273.79 L591.28 273.82 L593.37 273.86 L595.46 273.9 L597.56 273.93 L599.65 273.97 L601.74 274 L603.83 274.04 L605.93 274.07 L608.02 274.11 L610.11 274.14 L612.2 274.18 L614.3 274.21 L616.39 274.25 L618.48 274.28 L620.57 274.31 L622.67 274.35 L624.76 274.38 L626.85 274.42 L628.94 274.45 L631.04 274.48 L633.13 274.52 L635.22 274.55 L637.31 274.59 L639.41 274.62 L641.5 274.65 L643.59 274.69 L645.68 274.72 L647.78 274.75 L649.87 274.79 L651.96 274.82 L654.05 274.85 L656.15 274.89 L658.24 274.92 L660.33 274.95 L662.42 274.98 L664.52 275.02 L666.61 275.05 L668.7 275.08 L670.79 275.11 L672.89 275.15 L674.98 275.18 L677.07 275.21 L679.16 275.24 L681.26 275.27 L683.35 275.3 L685.44 275.34 L687.53 275.37 L689.63 275.4 L691.72 275.43 L693.81 275.46 L695.9 275.49 L698 275.53 L700.09 275.56 L702.18 275.59 L704.27 275.62 L706.37 275.65 L708.46 275.68 L710.55 275.71 L712.64 275.74 L714.74 275.77 L716.83 275.8 L718.92 275.83 L721.01 275.86 L723.11 275.89"/>
<path class="ll dt" d="M585 285.04 L587.09 285.05 L589.19 285.06 L591.28 285.07 L593.37 285.07 L595.46 285.08 L597.56 285.09 L599.65 285.1 L601.74 285.1 L603.83 285.11 L605.93 285.12 L608.02 285.13 L610.11 285.13 L612.2 285.14 L614.3 285.15 L616.39 285.15 L618.48 285.16 L620.57 285.17 L622.67 285.18 L624.76 285.18 L626.85 285.19 L628.94 285.2 L631.04 285.2 L633.13 285.21 L635.22 285.22 L637.31 285.22 L639.41 285.23 L641.5 285.24 L643.59 285.25 L645.68 285.25 L647.78 285.26 L649.87 285.27 L651.96 285.27 L654.05 285.28 L656.15 285.29 L658.24 285.29 L660.33 285.3 L662.42 285.31 L664.52 285.31 L666.61 285.32 L668.7 285.33 L670.79 285.33 L672.89 285.34 L674.98 285.35 L677.07 285.35 L679.16 285.36 L681.26 285.37 L683.35 285.37 L685.44 285.38 L687.53 285.38 L689.63 285.39 L691.72 285.4 L693.81 285.4 L695.9 285.41 L698 285.42 L700.09 285.42 L702.18 285.43 L704.27 285.44 L706.37 285.44 L708.46 285.45 L710.55 285.45 L712.64 285.46 L714.74 285.47 L716.83 285.47 L718.92 285.48 L721.01 285.49 L723.11 285.49"/>
<polyline class="dl" points="428.9,286.94 433.08,286.94 437.27,286.94 441.45,286.94 445.64,286.94 449.82,286.94 454.01,286.94 458.19,286.38 462.38,286.94 466.56,286.94 470.75,286.94 474.93,285.83 479.12,286.94 483.3,283.04 487.49,284.71 491.67,284.15 495.86,280.25 500.04,285.83 504.23,285.27 508.41,278.01 512.6,281.36 516.78,279.13 520.97,279.69 525.15,279.13 529.34,279.69 533.52,282.48 537.71,271.32 541.89,280.25 546.08,267.97 550.26,272.99 554.45,275.78 558.63,278.57 562.82,278.01 567,275.78 571.19,272.99 575.38,276.9 579.56,279.69 583.75,276.34 587.93,280.8 592.12,272.43 596.3,267.41 600.48,264.06 604.67,270.2 608.86,223.33 613.04,287.5 617.22,283.59 621.41,272.43 625.6,271.32 629.78,270.76 633.96,281.92 638.15,263.51 642.33,280.8 646.52,281.92 650.7,283.04 654.89,258.48 659.07,278.01 663.26,274.67 667.44,278.57 671.63,284.15 675.81,285.83 680,278.57 684.18,274.67 688.37,257.93 692.55,271.88 696.74,254.58 700.92,264.06 705.11,275.22 709.29,283.04 713.48,269.09"/>
<circle cx="428.9" cy="286.94" r="2.45"/>
<circle cx="433.08" cy="286.94" r="2.45"/>
<circle cx="437.27" cy="286.94" r="2.45"/>
<circle cx="441.45" cy="286.94" r="2.45"/>
<circle cx="445.64" cy="286.94" r="2.45"/>
<circle cx="449.82" cy="286.94" r="2.45"/>
<circle cx="454.01" cy="286.94" r="2.45"/>
<circle cx="458.19" cy="286.38" r="2.45"/>
<circle cx="462.38" cy="286.94" r="2.45"/>
<circle cx="466.56" cy="286.94" r="2.45"/>
<circle cx="470.75" cy="286.94" r="2.45"/>
<circle cx="474.93" cy="285.83" r="2.45"/>
<circle cx="479.12" cy="286.94" r="2.45"/>
<circle cx="483.3" cy="283.04" r="2.45"/>
<circle cx="487.49" cy="284.71" r="2.45"/>
<circle cx="491.67" cy="284.15" r="2.45"/>
<circle cx="495.86" cy="280.25" r="2.45"/>
<circle cx="500.04" cy="285.83" r="2.45"/>
<circle cx="504.23" cy="285.27" r="2.45"/>
<circle cx="508.41" cy="278.01" r="2.45"/>
<circle cx="512.6" cy="281.36" r="2.45"/>
<circle cx="516.78" cy="279.13" r="2.45"/>
<circle cx="520.97" cy="279.69" r="2.45"/>
<circle cx="525.15" cy="279.13" r="2.45"/>
<circle cx="529.34" cy="279.69" r="2.45"/>
<circle cx="533.52" cy="282.48" r="2.45"/>
<circle cx="537.71" cy="271.32" r="2.45"/>
<circle cx="541.89" cy="280.25" r="2.45"/>
<circle cx="546.08" cy="267.97" r="2.45"/>
<circle cx="550.26" cy="272.99" r="2.45"/>
<circle cx="554.45" cy="275.78" r="2.45"/>
<circle cx="558.63" cy="278.57" r="2.45"/>
<circle cx="562.82" cy="278.01" r="2.45"/>
<circle cx="567" cy="275.78" r="2.45"/>
<circle cx="571.19" cy="272.99" r="2.45"/>
<circle cx="575.38" cy="276.9" r="2.45"/>
<circle cx="579.56" cy="279.69" r="2.45"/>
<circle cx="583.75" cy="276.34" r="2.45"/>
<circle cx="587.93" cy="280.8" r="2.45"/>
<circle cx="592.12" cy="272.43" r="2.45"/>
<circle cx="596.3" cy="267.41" r="2.45"/>
<circle cx="600.48" cy="264.06" r="2.45"/>
<circle cx="604.67" cy="270.2" r="2.45"/>
<circle cx="608.86" cy="223.33" r="2.45"/>
<circle cx="613.04" cy="287.5" r="2.45"/>
<circle cx="617.22" cy="283.59" r="2.45"/>
<circle cx="621.41" cy="272.43" r="2.45"/>
<circle cx="625.6" cy="271.32" r="2.45"/>
<circle cx="629.78" cy="270.76" r="2.45"/>
<circle cx="633.96" cy="281.92" r="2.45"/>
<circle cx="638.15" cy="263.51" r="2.45"/>
<circle cx="642.33" cy="280.8" r="2.45"/>
<circle cx="646.52" cy="281.92" r="2.45"/>
<circle cx="650.7" cy="283.04" r="2.45"/>
<circle cx="654.89" cy="258.48" r="2.45"/>
<circle cx="659.07" cy="278.01" r="2.45"/>
<circle cx="663.26" cy="274.67" r="2.45"/>
<circle cx="667.44" cy="278.57" r="2.45"/>
<circle cx="671.63" cy="284.15" r="2.45"/>
<circle cx="675.81" cy="285.83" r="2.45"/>
<circle cx="680" cy="278.57" r="2.45"/>
<circle cx="684.18" cy="274.67" r="2.45"/>
<circle cx="688.37" cy="257.93" r="2.45"/>
<circle cx="692.55" cy="271.88" r="2.45"/>
<circle cx="696.74" cy="254.58" r="2.45"/>
<circle cx="700.92" cy="264.06" r="2.45"/>
<circle cx="705.11" cy="275.22" r="2.45"/>
<circle cx="709.29" cy="283.04" r="2.45"/>
<circle cx="713.48" cy="269.09" r="2.45"/>
</g>
</g>
<g>
<clipPath id="c2"><rect x="738.5" y="139.5" width="317.2" height="147.4"/></clipPath>
<text class="ct" transform="translate(897.6,134.9) scale(0.89,1)" text-anchor="middle">Connecticut</text>
<rect x="738.5" y="138.5" width="318.2" height="163" fill="#fff" stroke="#c4c4c4" stroke-width="1"/>
<text class="yl" transform="translate(754.7,289.75) scale(0.94,1)" text-anchor="end">0</text>
<line class="g" x1="756.7" x2="1053.7" y1="269.32" y2="269.32"/>
<text class="yl" transform="translate(754.7,272.17) scale(0.94,1)" text-anchor="end">50</text>
<line class="g" x1="756.7" x2="1053.7" y1="251.74" y2="251.74"/>
<text class="yl" transform="translate(754.7,254.59) scale(0.94,1)" text-anchor="end">100</text>
<line class="g" x1="756.7" x2="1053.7" y1="234.16" y2="234.16"/>
<text class="yl" transform="translate(754.7,237.01) scale(0.94,1)" text-anchor="end">150</text>
<line class="g" x1="756.7" x2="1053.7" y1="216.58" y2="216.58"/>
<text class="yl" transform="translate(754.7,219.43) scale(0.94,1)" text-anchor="end">200</text>
<line class="g" x1="756.7" x2="1053.7" y1="199" y2="199"/>
<text class="yl" transform="translate(754.7,201.85) scale(0.94,1)" text-anchor="end">250</text>
<line class="g" x1="756.7" x2="1053.7" y1="181.42" y2="181.42"/>
<text class="yl" transform="translate(754.7,184.27) scale(0.94,1)" text-anchor="end">300</text>
<line class="g" x1="756.7" x2="1053.7" y1="163.84" y2="163.84"/>
<text class="yl" transform="translate(754.7,166.69) scale(0.94,1)" text-anchor="end">350</text>
<line class="g" x1="756.7" x2="1053.7" y1="146.26" y2="146.26"/>
<text class="yl" transform="translate(754.7,149.11) scale(0.94,1)" text-anchor="end">400</text>
<text class="xl" text-anchor="end" transform="translate(760.2,289.9) rotate(-30)">03/18</text>
<text class="xl" text-anchor="end" transform="translate(764.68,289.9) rotate(-30)">03/19</text>
<text class="xl" text-anchor="end" transform="translate(769.16,289.9) rotate(-30)">03/20</text>
<text class="xl" text-anchor="end" transform="translate(773.64,289.9) rotate(-30)">03/21</text>
<text class="xl" text-anchor="end" transform="translate(778.12,289.9) rotate(-30)">03/22</text>
<text class="xl" text-anchor="end" transform="translate(782.6,289.9) rotate(-30)">03/23</text>
<text class="xl" text-anchor="end" transform="translate(787.08,289.9) rotate(-30)">03/24</text>
<text class="xl" text-anchor="end" transform="translate(791.56,289.9) rotate(-30)">03/25</text>
<text class="xl" text-anchor="end" transform="translate(796.04,289.9) rotate(-30)">03/26</text>
<text class="xl" text-anchor="end" transform="translate(800.52,289.9) rotate(-30)">03/27</text>
<text class="xl" text-anchor="end" transform="translate(805,289.9) rotate(-30)">03/28</text>
<text class="xl" text-anchor="end" transform="translate(809.48,289.9) rotate(-30)">03/29</text>
<text class="xl" text-anchor="end" transform="translate(813.96,289.9) rotate(-30)">03/30</text>
<text class="xl" text-anchor="end" transform="translate(818.44,289.9) rotate(-30)">03/31</text>
<text class="xl" text-anchor="end" transform="translate(822.92,289.9) rotate(-30)">04/01</text>
<text class="xl" text-anchor="end" transform="translate(827.4,289.9) rotate(-30)">04/02</text>
<text class="xl" text-anchor="end" transform="translate(831.88,289.9) rotate(-30)">04/03</text>
<text class="xl" text-anchor="end" transform="translate(836.36,289.9) rotate(-30)">04/04</text>
<text class="xl" text-anchor="end" transform="translate(840.84,289.9) rotate(-30)">04/05</text>
<text class="xl" text-anchor="end" transform="translate(845.32,289.9) rotate(-30)">04/06</text>
<text class="xl" text-anchor="end" transform="translate(849.8,289.9) rotate(-30)">04/07</text>
<text class="xl" text-anchor="end" transform="translate(854.28,289.9) rotate(-30)">04/08</text>
<text class="xl" text-anchor="end" transform="translate(858.76,289.9) rotate(-30)">04/09</text>
<text class="xl" text-anchor="end" transform="translate(863.24,289.9) rotate(-30)">04/10</text>
<text class="xl" text-anchor="end" transform="translate(867.72,289.9) rotate(-30)">04/11</text>
<text class="xl" text-anchor="end" transform="translate(872.2,289.9) rotate(-30)">04/12</text>
<text class="xl" text-anchor="end" transform="translate(876.68,289.9) rotate(-30)">04/13</text>
<text class="xl" text-anchor="end" transform="translate(881.16,289.9) rotate(-30)">04/14</text>
<text class="xl" text-anchor="end" transform="translate(885.64,289.9) rotate(-30)">04/15</text>
<text class="xl" text-anchor="end" transform="translate(890.12,289.9) rotate(-30)">04/16</text>
<text class="xl" text-anchor="end" transform="translate(894.6,289.9) rotate(-30)">04/17</text>
<text class="xl" text-anchor="end" transform="translate(899.08,289.9) rotate(-30)">04/18</text>
<text class="xl" text-anchor="end" transform="translate(903.56,289.9) rotate(-30)">04/19</text>
<text class="xl" text-anchor="end" transform="translate(908.04,289.9) rotate(-30)">04/20</text>
<text class="xl" text-anchor="end" transform="translate(912.52,289.9) rotate(-30)">04/21</text>
<text class="xl" text-anchor="end" transform="translate(917,289.9) rotate(-30)">04/22</text>
<text class="xl" text-anchor="end" transform="translate(921.48,289.9) rotate(-30)">04/23</text>
<text class="xl" text-anchor="end" transform="translate(925.96,289.9) rotate(-30)">04/24</text>
<text class="xl" text-anchor="end" transform="translate(930.44,289.9) rotate(-30)">04/25</text>
<text class="xl" text-anchor="end" transform="translate(934.92,289.9) rotate(-30)">04/26</text>
<text class="xl" text-anchor="end" transform="translate(939.4,289.9) rotate(-30)">04/27</text>
<text class="xl" text-anchor="end" transform="translate(943.88,289.9) rotate(-30)">04/28</text>
<text class="xl" text-anchor="end" transform="translate(948.36,289.9) rotate(-30)">04/29</text>
<text class="xl" text-anchor="end" transform="translate(952.84,289.9) rotate(-30)">04/30</text>
<text class="xl" text-anchor="end" transform="translate(957.32,289.9) rotate(-30)">05/01</text>
<text class="xl" text-anchor="end" transform="translate(961.8,289.9) rotate(-30)">05/02</text>
<text class="xl" text-anchor="end" transform="translate(966.28,289.9) rotate(-30)">05/03</text>
<text class="xl" text-anchor="end" transform="translate(970.76,289.9) rotate(-30)">05/04</text>
<text class="xl" text-anchor="end" transform="translate(975.24,289.9) rotate(-30)">05/05</text>
<text class="xl" text-anchor="end" transform="translate(979.72,289.9) rotate(-30)">05/06</text>
<text class="xl" text-anchor="end" transform="translate(984.2,289.9) rotate(-30)">05/07</text>
<text class="xl" text-anchor="end" transform="translate(988.68,289.9) rotate(-30)">05/08</text>
<text class="xl" text-anchor="end" transform="translate(993.16,289.9) rotate(-30)">05/09</text>
<text class="xl" text-anchor="end" transform="translate(997.64,289.9) rotate(-30)">05/10</text>
<text class="xl" text-anchor="end" transform="translate(1002.12,289.9) rotate(-30)">05/11</text>
<text class="xl" text-anchor="end" transform="translate(1006.6,289.9) rotate(-30)">05/12</text>
<text class="xl" text-anchor="end" transform="translate(1011.08,289.9) rotate(-30)">05/13</text>
<text class="xl" text-anchor="end" transform="translate(1015.56,289.9) rotate(-30)">05/14</text>
<text class="xl" text-anchor="end" transform="translate(1020.04,289.9) rotate(-30)">05/15</text>
<text class="xl" text-anchor="end" transform="translate(1024.52,289.9) rotate(-30)">05/16</text>
<text class="xl" text-anchor="end" transform="translate(1029,289.9) rotate(-30)">05/17</text>
<text class="xl" text-anchor="end" transform="translate(1033.48,289.9) rotate(-30)">05/18</text>
<text class="xl" text-anchor="end" transform="translate(1037.96,289.9) rotate(-30)">05/19</text>
<text class="xl" text-anchor="end" transform="translate(1042.44,289.9) rotate(-30)">05/20</text>
<text class="xl" text-anchor="end" transform="translate(1046.92,289.9) rotate(-30)">05/21</text>
<text class="xl" text-anchor="end" transform="translate(1051.4,289.9) rotate(-30)">05/22</text>
<g clip-path="url(#c2)">
<path class="ul" d="M789.76 280.57 L792.05 280.03 L794.33 279.45 L796.62 278.82 L798.91 278.13 L801.2 277.38 L803.48 276.57 L805.77 275.69 L808.06 274.74 L810.34 273.71 L812.63 272.59 L814.92 271.37 L817.21 270.05 L819.49 268.62 L821.78 267.06 L824.07 265.37 L826.35 263.54 L828.64 261.56 L830.93 259.4 L833.22 257.07 L835.5 254.53 L837.79 251.78 L840.08 248.79 L842.36 245.55 L844.65 242.03 L846.94 238.22 L849.23 234.08 L851.51 229.59 L853.8 224.71 L856.09 219.43 L858.37 213.69 L860.66 207.46 L862.95 200.71 L865.24 193.38 L867.52 185.43 L869.81 176.8 L872.1 167.44 L874.38 157.28 L876.67 146.26"/>
<path class="cl" d="M789.76 285.46 L792.01 285.34 L794.26 285.2 L796.5 285.06 L798.75 284.9 L801 284.73 L803.25 284.54 L805.5 284.34 L807.75 284.13 L809.99 283.89 L812.24 283.63 L814.49 283.35 L816.74 283.05 L818.99 282.72 L821.23 282.37 L823.48 281.98 L825.73 281.56 L827.98 281.1 L830.23 280.61 L832.47 280.07 L834.72 279.49 L836.97 278.86 L839.22 278.17 L841.47 277.43 L843.72 276.62 L845.96 275.74 L848.21 274.79 L850.46 273.75 L852.71 272.63 L854.96 271.42 L857.2 270.1 L859.45 268.66 L861.7 267.11 L863.95 265.42 L866.2 263.58 L868.45 261.6 L870.69 259.44 L872.94 257.09 L875.19 254.55 L877.44 251.79 L879.69 248.8 L881.93 245.55 L884.18 242.02 L886.43 238.19 L888.68 234.04 L890.93 229.53 L893.17 224.63 L895.42 219.32 L897.67 213.55 L899.92 207.3 L902.17 200.51 L904.42 193.14 L906.66 185.14 L908.91 176.46 L911.16 167.03 L913.41 156.81"/>
<path class="ll" d="M789.76 286.57 L792 286.55 L794.24 286.52 L796.48 286.48 L798.72 286.45 L800.96 286.41 L803.2 286.37 L805.44 286.33 L807.68 286.28 L809.92 286.23 L812.16 286.17 L814.4 286.11 L816.64 286.04 L818.88 285.97 L821.12 285.89 L823.36 285.81 L825.6 285.72 L827.84 285.62 L830.08 285.51 L832.32 285.39 L834.56 285.27 L836.8 285.13 L839.04 284.98 L841.28 284.82 L843.52 284.65 L845.76 284.46 L848 284.25 L850.24 284.03 L852.48 283.79 L854.72 283.53 L856.96 283.25 L859.2 282.94 L861.44 282.61 L863.68 282.25 L865.92 281.87 L868.16 281.44 L870.4 280.99 L872.64 280.49 L874.88 279.95 L877.12 279.37 L879.36 278.74 L881.6 278.06 L883.84 277.32 L886.08 276.52 L888.32 275.65 L890.56 274.71 L892.8 273.68 L895.04 272.58 L897.28 271.38 L899.52 270.08 L901.76 268.67 L904 267.14 L906.24 265.49 L908.48 263.7 L910.72 261.75 L912.96 259.65 L915.2 257.37"/>
<path class="ul dt" d="M919.68 211.66 L921.92 212.84 L924.16 214.01 L926.4 215.16 L928.64 216.28 L930.88 217.4 L933.12 218.49 L935.36 219.57 L937.6 220.63 L939.84 221.67 L942.08 222.7 L944.32 223.71 L946.56 224.7 L948.8 225.68 L951.04 226.64 L953.28 227.59 L955.52 228.53 L957.76 229.45 L960 230.35 L962.24 231.24 L964.48 232.12 L966.72 232.98 L968.96 233.83 L971.2 234.66 L973.44 235.49 L975.68 236.29 L977.92 237.09 L980.16 237.88 L982.4 238.65 L984.64 239.41 L986.88 240.15 L989.12 240.89 L991.36 241.61 L993.6 242.33 L995.84 243.03 L998.08 243.72 L1000.32 244.4 L1002.56 245.07 L1004.8 245.73 L1007.04 246.37 L1009.28 247.01 L1011.52 247.64 L1013.76 248.26 L1016 248.87 L1018.24 249.46 L1020.48 250.05 L1022.72 250.63 L1024.96 251.21 L1027.2 251.77 L1029.44 252.32 L1031.68 252.86 L1033.92 253.4 L1036.16 253.93 L1038.4 254.45 L1040.64 254.96 L1042.88 255.46 L1045.12 255.95 L1047.36 256.44 L1049.6 256.92 L1051.84 257.39 L1054.08 257.86"/>
<path class="cl" d="M919.68 249.45 L921.92 250.05 L924.16 250.63 L926.4 251.2 L928.64 251.76 L930.88 252.32 L933.12 252.86 L935.36 253.4 L937.6 253.93 L939.84 254.45 L942.08 254.96 L944.32 255.47 L946.56 255.96 L948.8 256.45 L951.04 256.93 L953.28 257.4 L955.52 257.87 L957.76 258.33 L960 258.78 L962.24 259.22 L964.48 259.66 L966.72 260.09 L968.96 260.51 L971.2 260.93 L973.44 261.34 L975.68 261.74 L977.92 262.14 L980.16 262.53 L982.4 262.92 L984.64 263.29 L986.88 263.67 L989.12 264.03 L991.36 264.39 L993.6 264.75 L995.84 265.1 L998.08 265.44 L1000.32 265.78 L1002.56 266.12 L1004.8 266.44 L1007.04 266.77 L1009.28 267.08 L1011.52 267.4 L1013.76 267.7 L1016 268.01 L1018.24 268.31 L1020.48 268.6 L1022.72 268.89 L1024.96 269.17 L1027.2 269.45 L1029.44 269.73 L1031.68 270 L1033.92 270.27 L1036.16 270.53 L1038.4 270.79 L1040.64 271.04 L1042.88 271.29 L1045.12 271.54 L1047.36 271.78 L1049.6 272.02 L1051.84 272.25 L1054.08 272.48"/>
<path class="ll dt" d="M919.68 268.27 L921.92 268.55 L924.16 268.83 L926.4 269.11 L928.64 269.38 L930.88 269.65 L933.12 269.91 L935.36 270.17 L937.6 270.43 L939.84 270.68 L942.08 270.93 L944.32 271.17 L946.56 271.41 L948.8 271.65 L951.04 271.89 L953.28 272.12 L955.52 272.34 L957.76 272.56 L960 272.78 L962.24 273 L964.48 273.21 L966.72 273.42 L968.96 273.63 L971.2 273.83 L973.44 274.03 L975.68 274.23 L977.92 274.42 L980.16 274.61 L982.4 274.8 L984.64 274.99 L986.88 275.17 L989.12 275.35 L991.36 275.53 L993.6 275.7 L995.84 275.87 L998.08 276.04 L1000.32 276.21 L1002.56 276.37 L1004.8 276.53 L1007.04 276.69 L1009.28 276.85 L1011.52 277 L1013.76 277.15 L1016 277.3 L1018.24 277.45 L1020.48 277.59 L1022.72 277.74 L1024.96 277.88 L1027.2 278.01 L1029.44 278.15 L1031.68 278.28 L1033.92 278.42 L1036.16 278.55 L1038.4 278.67 L1040.64 278.8 L1042.88 278.92 L1045.12 279.05 L1047.36 279.17 L1049.6 279.28 L1051.84 279.4 L1054.08 279.52"/>
<polyline class="dl" points="758.4,286.55 762.88,285.85 767.36,286.55 771.84,286.55 776.32,285.85 780.8,286.2 785.28,286.2 789.76,284.44 794.24,286.2 798.72,284.79 803.2,284.79 807.68,286.2 812.16,286.2 816.64,275.3 821.12,281.27 825.6,277.41 830.08,279.87 834.56,275.3 839.04,278.81 843.52,280.92 848,261.94 852.48,266.51 856.96,271.08 861.44,262.99 865.92,270.73 870.4,265.8 874.88,270.02 879.36,262.64 883.84,217.63 888.32,250.69 892.8,264.05 897.28,269.32 901.76,272.48 906.24,215.17 910.72,254.55 915.2,244.71 919.68,253.5 924.16,242.95 928.64,252.44 933.12,264.75 937.6,256.31 942.08,259.83 946.56,259.12 951.04,255.61 955.52,258.07 960,252.79 964.48,286.9 968.96,244.71 973.44,259.83 977.92,257.01 982.4,259.12 986.88,259.83 991.36,266.51 995.84,274.59 1000.32,272.13 1004.8,275.3 1009.28,257.72 1013.76,253.85 1018.24,263.69 1022.72,267.91 1027.2,262.64 1031.68,272.13 1036.16,278.81"/>
<circle cx="758.4" cy="286.55" r="2.45"/>
<circle cx="762.88" cy="285.85" r="2.45"/>
<circle cx="767.36" cy="286.55" r="2.45"/>
<circle cx="771.84" cy="286.55" r="2.45"/>
<circle cx="776.32" cy="285.85" r="2.45"/>
<circle cx="780.8" cy="286.2" r="2.45"/>
<circle cx="785.28" cy="286.2" r="2.45"/>
<circle cx="789.76" cy="284.44" r="2.45"/>
<circle cx="794.24" cy="286.2" r="2.45"/>
<circle cx="798.72" cy="284.79" r="2.45"/>
<circle cx="803.2" cy="284.79" r="2.45"/>
<circle cx="807.68" cy="286.2" r="2.45"/>
<circle cx="812.16" cy="286.2" r="2.45"/>
<circle cx="816.64" cy="275.3" r="2.45"/>
<circle cx="821.12" cy="281.27" r="2.45"/>
<circle cx="825.6" cy="277.41" r="2.45"/>
<circle cx="830.08" cy="279.87" r="2.45"/>
<circle cx="834.56" cy="275.3" r="2.45"/>
<circle cx="839.04" cy="278.81" r="2.45"/>
<circle cx="843.52" cy="280.92" r="2.45"/>
<circle cx="848" cy="261.94" r="2.45"/>
<circle cx="852.48" cy="266.51" r="2.45"/>
<circle cx="856.96" cy="271.08" r="2.45"/>
<circle cx="861.44" cy="262.99" r="2.45"/>
<circle cx="865.92" cy="270.73" r="2.45"/>
<circle cx="870.4" cy="265.8" r="2.45"/>
<circle cx="874.88" cy="270.02" r="2.45"/>
<circle cx="879.36" cy="262.64" r="2.45"/>
<circle cx="883.84" cy="217.63" r="2.45"/>
<circle cx="888.32" cy="250.69" r="2.45"/>
<circle cx="892.8" cy="264.05" r="2.45"/>
<circle cx="897.28" cy="269.32" r="2.45"/>
<circle cx="901.76" cy="272.48" r="2.45"/>
<circle cx="906.24" cy="215.17" r="2.45"/>
<circle cx="910.72" cy="254.55" r="2.45"/>
<circle cx="915.2" cy="244.71" r="2.45"/>
<circle cx="919.68" cy="253.5" r="2.45"/>
<circle cx="924.16" cy="242.95" r="2.45"/>
<circle cx="928.64" cy="252.44" r="2.45"/>
<circle cx="933.12" cy="264.75" r="2.45"/>
<circle cx="937.6" cy="256.31" r="2.45"/>
<circle cx="942.08" cy="259.83" r="2.45"/>
<circle cx="946.56" cy="259.12" r="2.45"/>
<circle cx="951.04" cy="255.61" r="2.45"/>
<circle cx="955.52" cy="258.07" r="2.45"/>
<circle cx="960" cy="252.79" r="2.45"/>
<circle cx="964.48" cy="286.9" r="2.45"/>
<circle cx="968.96" cy="244.71" r="2.45"/>
<circle cx="973.44" cy="259.83" r="2.45"/>
<circle cx="977.92" cy="257.01" r="2.45"/>
<circle cx="982.4" cy="259.12" r="2.45"/>
<circle cx="986.88" cy="259.83" r="2.45"/>
<circle cx="991.36" cy="266.51" r="2.45"/>
<circle cx="995.84" cy="274.59" r="2.45"/>
<circle cx="1000.32" cy="272.13" r="2.45"/>
<circle cx="1004.8" cy="275.3" r="2.45"/>
<circle cx="1009.28" cy="257.72" r="2.45"/>
<circle cx="1013.76" cy="253.85" r="2.45"/>
<circle cx="1018.24" cy="263.69" r="2.45"/>
<circle cx="1022.72" cy="267.91" r="2.45"/>
<circle cx="1027.2" cy="262.64" r="2.45"/>
<circle cx="1031.68" cy="272.13" r="2.45"/>
<circle cx="1036.16" cy="278.81" r="2.45"/>
</g>
</g>
<g>
<clipPath id="c3"><rect x="75.5" y="329.5" width="318" height="147.3"/></clipPath>
<text class="ct" transform="translate(235,324.9) scale(0.89,1)" text-anchor="middle">District of Columbia</text>
<rect x="75.5" y="328.5" width="319" height="163" fill="#fff" stroke="#c4c4c4" stroke-width="1"/>
<text class="yl" transform="translate(86.7,479.65) scale(0.94,1)" text-anchor="end">0</text>
<line class="g" x1="88.7" x2="391.5" y1="459.25" y2="459.25"/>
<text class="yl" transform="translate(86.7,462.1) scale(0.94,1)" text-anchor="end">5</text>
<line class="g" x1="88.7" x2="391.5" y1="441.7" y2="441.7"/>
<text class="yl" transform="translate(86.7,444.55) scale(0.94,1)" text-anchor="end">10</text>
<line class="g" x1="88.7" x2="391.5" y1="424.15" y2="424.15"/>
<text class="yl" transform="translate(86.7,427) scale(0.94,1)" text-anchor="end">15</text>
<line class="g" x1="88.7" x2="391.5" y1="406.6" y2="406.6"/>
<text class="yl" transform="translate(86.7,409.45) scale(0.94,1)" text-anchor="end">20</text>
<line class="g" x1="88.7" x2="391.5" y1="389.05" y2="389.05"/>
<text class="yl" transform="translate(86.7,391.9) scale(0.94,1)" text-anchor="end">25</text>
<line class="g" x1="88.7" x2="391.5" y1="371.5" y2="371.5"/>
<text class="yl" transform="translate(86.7,374.35) scale(0.94,1)" text-anchor="end">30</text>
<line class="g" x1="88.7" x2="391.5" y1="353.95" y2="353.95"/>
<text class="yl" transform="translate(86.7,356.8) scale(0.94,1)" text-anchor="end">35</text>
<line class="g" x1="88.7" x2="391.5" y1="336.4" y2="336.4"/>
<text class="yl" transform="translate(86.7,339.25) scale(0.94,1)" text-anchor="end">40</text>
<text class="xl" text-anchor="end" transform="translate(93.2,479.8) rotate(-30)">03/20</text>
<text class="xl" text-anchor="end" transform="translate(98.29,479.8) rotate(-30)">03/21</text>
<text class="xl" text-anchor="end" transform="translate(103.38,479.8) rotate(-30)">03/22</text>
<text class="xl" text-anchor="end" transform="translate(108.47,479.8) rotate(-30)">03/23</text>
<text class="xl" text-anchor="end" transform="translate(113.56,479.8) rotate(-30)">03/24</text>
<text class="xl" text-anchor="end" transform="translate(118.65,479.8) rotate(-30)">03/25</text>
<text class="xl" text-anchor="end" transform="translate(123.74,479.8) rotate(-30)">03/26</text>
<text class="xl" text-anchor="end" transform="translate(128.83,479.8) rotate(-30)">03/27</text>
<text class="xl" text-anchor="end" transform="translate(133.92,479.8) rotate(-30)">03/28</text>
<text class="xl" text-anchor="end" transform="translate(139.01,479.8) rotate(-30)">03/29</text>
<text class="xl" text-anchor="end" transform="translate(144.1,479.8) rotate(-30)">03/30</text>
<text class="xl" text-anchor="end" transform="translate(149.19,479.8) rotate(-30)">03/31</text>
<text class="xl" text-anchor="end" transform="translate(154.28,479.8) rotate(-30)">04/01</text>
<text class="xl" text-anchor="end" transform="translate(159.37,479.8) rotate(-30)">04/02</text>
<text class="xl" text-anchor="end" transform="translate(164.46,479.8) rotate(-30)">04/03</text>
<text class="xl" text-anchor="end" transform="translate(169.55,479.8) rotate(-30)">04/04</text>
<text class="xl" text-anchor="end" transform="translate(174.64,479.8) rotate(-30)">04/05</text>
<text class="xl" text-anchor="end" transform="translate(179.73,479.8) rotate(-30)">04/06</text>
<text class="xl" text-anchor="end" transform="translate(184.82,479.8) rotate(-30)">04/07</text>
<text class="xl" text-anchor="end" transform="translate(189.91,479.8) rotate(-30)">04/08</text>
<text class="xl" text-anchor="end" transform="translate(195,479.8) rotate(-30)">04/09</text>
<text class="xl" text-anchor="end" transform="translate(200.09,479.8) rotate(-30)">04/10</text>
<text class="xl" text-anchor="end" transform="translate(205.18,479.8) rotate(-30)">04/11</text>
<text class="xl" text-anchor="end" transform="translate(210.27,479.8) rotate(-30)">04/12</text>
<text class="xl" text-anchor="end" transform="translate(215.36,479.8) rotate(-30)">04/13</text>
<text class="xl" text-anchor="end" transform="translate(220.45,479.8) rotate(-30)">04/14</text>
<text class="xl" text-anchor="end" transform="translate(225.54,479.8) rotate(-30)">04/15</text>
<text class="xl" text-anchor="end" transform="translate(230.63,479.8) rotate(-30)">04/16</text>
<text class="xl" text-anchor="end" transform="translate(235.72,479.8) rotate(-30)">04/17</text>
<text class="xl" text-anchor="end" transform="translate(240.81,479.8) rotate(-30)">04/18</text>
<text class="xl" text-anchor="end" transform="translate(245.9,479.8) rotate(-30)">04/19</text>
<text class="xl" text-anchor="end" transform="translate(250.99,479.8) rotate(-30)">04/20</text>
<text class="xl" text-anchor="end" transform="translate(256.08,479.8) rotate(-30)">04/21</text>
<text class="xl" text-anchor="end" transform="translate(261.17,479.8) rotate(-30)">04/22</text>
<text class="xl" text-anchor="end" transform="translate(266.26,479.8) rotate(-30)">04/23</text>
<text class="xl" text-anchor="end" transform="translate(271.35,479.8) rotate(-30)">04/24</text>
<text class="xl" text-anchor="end" transform="translate(276.44,479.8) rotate(-30)">04/25</text>
<text class="xl" text-anchor="end" transform="translate(281.53,479.8) rotate(-30)">04/26</text>
<text class="xl" text-anchor="end" transform="translate(286.62,479.8) rotate(-30)">04/27</text>
<text class="xl" text-anchor="end" transform="translate(291.71,479.8) rotate(-30)">04/28</text>
<text class="xl" text-anchor="end" transform="translate(296.8,479.8) rotate(-30)">04/29</text>
<text class="xl" text-anchor="end" transform="translate(301.89,479.8) rotate(-30)">04/30</text>
<text class="xl" text-anchor="end" transform="translate(306.98,479.8) rotate(-30)">05/01</text>
<text class="xl" text-anchor="end" transform="translate(312.07,479.8) rotate(-30)">05/02</text>
<text class="xl" text-anchor="end" transform="translate(317.16,479.8) rotate(-30)">05/03</text>
<text class="xl" text-anchor="end" transform="translate(322.25,479.8) rotate(-30)">05/04</text>
<text class="xl" text-anchor="end" transform="translate(327.34,479.8) rotate(-30)">05/05</text>
<text class="xl" text-anchor="end" transform="translate(332.43,479.8) rotate(-30)">05/06</text>
<text class="xl" text-anchor="end" transform="translate(337.52,479.8) rotate(-30)">05/07</text>
<text class="xl" text-anchor="end" transform="translate(342.61,479.8) rotate(-30)">05/08</text>
<text class="xl" text-anchor="end" transform="translate(347.7,479.8) rotate(-30)">05/09</text>
<text class="xl" text-anchor="end" transform="translate(352.79,479.8) rotate(-30)">05/10</text>
<text class="xl" text-anchor="end" transform="translate(357.88,479.8) rotate(-30)">05/11</text>
<text class="xl" text-anchor="end" transform="translate(362.97,479.8) rotate(-30)">05/12</text>
<text class="xl" text-anchor="end" transform="translate(368.06,479.8) rotate(-30)">05/13</text>
<text class="xl" text-anchor="end" transform="translate(373.15,479.8) rotate(-30)">05/14</text>
<text class="xl" text-anchor="end" transform="translate(378.24,479.8) rotate(-30)">05/15</text>
<text class="xl" text-anchor="end" transform="translate(383.33,479.8) rotate(-30)">05/16</text>
<text class="xl" text-anchor="end" transform="translate(388.42,479.8) rotate(-30)">05/17</text>
<text class="xl" text-anchor="end" transform="translate(393.51,479.8) rotate(-30)">05/18</text>
<g clip-path="url(#c3)">
<path class="ul dt" d="M91.4 466.97 L132.12 466.97"/>
<path class="cl" d="M91.4 474.87 L132.12 474.87"/>
<path class="ul" d="M137.21 419.59 L139.79 417.58 L142.38 415.5 L144.96 413.34 L147.55 411.11 L150.13 408.81 L152.71 406.42 L155.3 403.94 L157.88 401.39 L160.47 398.74 L163.05 395.99 L165.64 393.15 L168.22 390.22 L170.8 387.17 L173.39 384.03 L175.97 380.77 L178.56 377.39 L181.14 373.9 L183.72 370.29 L186.31 366.54 L188.89 362.67 L191.48 358.66 L194.06 354.51 L196.65 350.22 L199.23 345.77 L201.81 341.16 L204.4 336.4"/>
<path class="cl" d="M137.21 468.87 L139.75 468.59 L142.3 468.31 L144.84 468.02 L147.39 467.71 L149.94 467.4 L152.48 467.07 L155.03 466.74 L157.57 466.39 L160.12 466.03 L162.66 465.66 L165.2 465.27 L167.75 464.87 L170.3 464.46 L172.84 464.04 L175.38 463.59 L177.93 463.14 L180.48 462.67 L183.02 462.18 L185.56 461.67 L188.11 461.15 L190.66 460.61 L193.2 460.05 L195.75 459.47 L198.29 458.87 L200.84 458.25 L203.38 457.61 L205.93 456.95 L208.47 456.26 L211.01 455.55 L213.56 454.81 L216.11 454.05 L218.65 453.27 L221.19 452.45 L223.74 451.61 L226.28 450.74 L228.83 449.84 L231.38 448.91 L233.92 447.95 L236.47 446.95 L239.01 445.92 L241.56 444.85 L244.1 443.75 L246.65 442.6 L249.19 441.42 L251.74 440.2 L254.28 438.93 L256.82 437.62 L259.37 436.27 L261.91 434.87 L264.46 433.42 L267 431.92 L269.55 430.37 L272.1 428.76 L274.64 427.1 L277.19 425.39 L279.73 423.61 L282.27 421.77 L284.82 419.87 L287.37 417.9 L289.91 415.87 L292.46 413.76 L295 411.58 L297.54 409.33 L300.09 406.99 L302.63 404.58 L305.18 402.09 L307.73 399.5 L310.27 396.83 L312.81 394.07 L315.36 391.21 L317.9 388.25 L320.45 385.19 L323 382.02 L325.54 378.75 L328.09 375.36 L330.63 371.85"/>
<path class="ll dt" d="M137.21 475.4 L139.75 475.35 L142.3 475.31 L144.84 475.26 L147.39 475.21 L149.94 475.16 L152.48 475.11 L155.03 475.06 L157.57 475 L160.12 474.95 L162.66 474.89 L165.2 474.83 L167.75 474.77 L170.3 474.71 L172.84 474.64 L175.38 474.57 L177.93 474.5 L180.48 474.43 L183.02 474.36 L185.56 474.28 L188.11 474.2 L190.66 474.12 L193.2 474.04 L195.75 473.95 L198.29 473.86 L200.84 473.77 L203.38 473.67 L205.93 473.58 L208.47 473.48 L211.01 473.37 L213.56 473.26 L216.11 473.15 L218.65 473.04 L221.19 472.92 L223.74 472.8 L226.28 472.68 L228.83 472.55 L231.38 472.41 L233.92 472.28 L236.47 472.14 L239.01 471.99 L241.56 471.84 L244.1 471.69 L246.65 471.53 L249.19 471.36 L251.74 471.19 L254.28 471.01 L256.82 470.83 L259.37 470.65 L261.91 470.46 L264.46 470.26 L267 470.05 L269.55 469.84 L272.1 469.62 L274.64 469.4 L277.19 469.17 L279.73 468.93 L282.27 468.68 L284.82 468.43 L287.37 468.17 L289.91 467.9 L292.46 467.62 L295 467.33 L297.54 467.04 L300.09 466.73 L302.63 466.42 L305.18 466.09 L307.73 465.76 L310.27 465.41 L312.81 465.06 L315.36 464.69 L317.9 464.31 L320.45 463.92 L323 463.52 L325.54 463.1 L328.09 462.68 L330.63 462.23"/>
<polyline class="dl" points="91.4,473.29 96.49,476.8 101.58,473.29 106.67,476.8 111.76,476.8 116.85,473.29 121.94,476.8 127.03,473.29 132.12,473.29 137.21,462.76 142.3,476.8 147.39,469.78 152.48,473.29 157.57,466.27 162.66,455.74 167.75,473.29 172.84,469.78 177.93,476.8 183.02,466.27 188.11,459.25 193.2,455.74 198.29,445.21 203.38,466.27 208.47,469.78 213.56,424.15 218.65,459.25 223.74,445.21 228.83,459.25 233.92,459.25 239.01,459.25 244.1,445.21 249.19,452.23 254.28,424.15 259.37,434.68 264.46,427.66 269.55,434.68 274.64,431.17 279.73,452.23 284.82,459.25 289.91,424.15 295,410.11 300.09,452.23 305.18,445.21 310.27,438.19 315.36,452.23 320.45,455.74 325.54,431.17 330.63,448.72 335.72,410.11 340.81,452.23 345.9,434.68 350.99,459.25 356.08,448.72 361.17,427.66 366.26,448.72 371.35,441.7 376.44,452.23 381.53,448.72 386.62,445.21 391.71,448.72"/>
<circle cx="91.4" cy="473.29" r="2.45"/>
<circle cx="96.49" cy="476.8" r="2.45"/>
<circle cx="101.58" cy="473.29" r="2.45"/>
<circle cx="106.67" cy="476.8" r="2.45"/>
<circle cx="111.76" cy="476.8" r="2.45"/>
<circle cx="116.85" cy="473.29" r="2.45"/>
<circle cx="121.94" cy="476.8" r="2.45"/>
<circle cx="127.03" cy="473.29" r="2.45"/>
<circle cx="132.12" cy="473.29" r="2.45"/>
<circle cx="137.21" cy="462.76" r="2.45"/>
<circle cx="142.3" cy="476.8" r="2.45"/>
<circle cx="147.39" cy="469.78" r="2.45"/>
<circle cx="152.48" cy="473.29" r="2.45"/>
<circle cx="157.57" cy="466.27" r="2.45"/>
<circle cx="162.66" cy="455.74" r="2.45"/>
<circle cx="167.75" cy="473.29" r="2.45"/>
<circle cx="172.84" cy="469.78" r="2.45"/>
<circle cx="177.93" cy="476.8" r="2.45"/>
<circle cx="183.02" cy="466.27" r="2.45"/>
<circle cx="188.11" cy="459.25" r="2.45"/>
<circle cx="193.2" cy="455.74" r="2.45"/>
<circle cx="198.29" cy="445.21" r="2.45"/>
<circle cx="203.38" cy="466.27" r="2.45"/>
<circle cx="208.47" cy="469.78" r="2.45"/>
<circle cx="213.56" cy="424.15" r="2.45"/>
<circle cx="218.65" cy="459.25" r="2.45"/>
<circle cx="223.74" cy="445.21" r="2.45"/>
<circle cx="228.83" cy="459.25" r="2.45"/>
<circle cx="233.92" cy="459.25" r="2.45"/>
<circle cx="239.01" cy="459.25" r="2.45"/>
<circle cx="244.1" cy="445.21" r="2.45"/>
<circle cx="249.19" cy="452.23" r="2.45"/>
<circle cx="254.28" cy="424.15" r="2.45"/>
<circle cx="259.37" cy="434.68" r="2.45"/>
<circle cx="264.46" cy="427.66" r="2.45"/>
<circle cx="269.55" cy="434.68" r="2.45"/>
<circle cx="274.64" cy="431.17" r="2.45"/>
<circle cx="279.73" cy="452.23" r="2.45"/>
<circle cx="284.82" cy="459.25" r="2.45"/>
<circle cx="289.91" cy="424.15" r="2.45"/>
<circle cx="295" cy="410.11" r="2.45"/>
<circle cx="300.09" cy="452.23" r="2.45"/>
<circle cx="305.18" cy="445.21" r="2.45"/>
<circle cx="310.27" cy="438.19" r="2.45"/>
<circle cx="315.36" cy="452.23" r="2.45"/>
<circle cx="320.45" cy="455.74" r="2.45"/>
<circle cx="325.54" cy="431.17" r="2.45"/>
<circle cx="330.63" cy="448.72" r="2.45"/>
<circle cx="335.72" cy="410.11" r="2.45"/>
<circle cx="340.81" cy="452.23" r="2.45"/>
<circle cx="345.9" cy="434.68" r="2.45"/>
<circle cx="350.99" cy="459.25" r="2.45"/>
<circle cx="356.08" cy="448.72" r="2.45"/>
<circle cx="361.17" cy="427.66" r="2.45"/>
<circle cx="366.26" cy="448.72" r="2.45"/>
<circle cx="371.35" cy="441.7" r="2.45"/>
<circle cx="376.44" cy="452.23" r="2.45"/>
<circle cx="381.53" cy="448.72" r="2.45"/>
<circle cx="386.62" cy="445.21" r="2.45"/>
<circle cx="391.71" cy="448.72" r="2.45"/>
</g>
</g>
<g>
<clipPath id="c4"><rect x="408.5" y="329.5" width="318" height="146.8"/></clipPath>
<text class="ct" transform="translate(568,324.9) scale(0.89,1)" text-anchor="middle">Florida</text>
<rect x="408.5" y="328.5" width="319" height="163" fill="#fff" stroke="#c4c4c4" stroke-width="1"/>
<text class="yl" transform="translate(424.5,479.15) scale(0.94,1)" text-anchor="end">0</text>
<line class="g" x1="426.5" x2="724.5" y1="462.32" y2="462.32"/>
<text class="yl" transform="translate(424.5,465.17) scale(0.94,1)" text-anchor="end">20</text>
<line class="g" x1="426.5" x2="724.5" y1="448.34" y2="448.34"/>
<text class="yl" transform="translate(424.5,451.19) scale(0.94,1)" text-anchor="end">40</text>
<line class="g" x1="426.5" x2="724.5" y1="434.36" y2="434.36"/>
<text class="yl" transform="translate(424.5,437.21) scale(0.94,1)" text-anchor="end">60</text>
<line class="g" x1="426.5" x2="724.5" y1="420.38" y2="420.38"/>
<text class="yl" transform="translate(424.5,423.23) scale(0.94,1)" text-anchor="end">80</text>
<line class="g" x1="426.5" x2="724.5" y1="406.4" y2="406.4"/>
<text class="yl" transform="translate(424.5,409.25) scale(0.94,1)" text-anchor="end">100</text>
<line class="g" x1="426.5" x2="724.5" y1="392.42" y2="392.42"/>
<text class="yl" transform="translate(424.5,395.27) scale(0.94,1)" text-anchor="end">120</text>
<line class="g" x1="426.5" x2="724.5" y1="378.44" y2="378.44"/>
<text class="yl" transform="translate(424.5,381.29) scale(0.94,1)" text-anchor="end">140</text>
<line class="g" x1="426.5" x2="724.5" y1="364.46" y2="364.46"/>
<text class="yl" transform="translate(424.5,367.31) scale(0.94,1)" text-anchor="end">160</text>
<line class="g" x1="426.5" x2="724.5" y1="350.48" y2="350.48"/>
<text class="yl" transform="translate(424.5,353.33) scale(0.94,1)" text-anchor="end">180</text>
<line class="g" x1="426.5" x2="724.5" y1="336.5" y2="336.5"/>
<text class="yl" transform="translate(424.5,339.35) scale(0.94,1)" text-anchor="end">200</text>
<text class="xv" text-anchor="end" transform="translate(431.8,477.8) rotate(-89.6)">3/06</text>
<text class="xv" text-anchor="end" transform="translate(435.98,477.8) rotate(-89.6)">3/07</text>
<text class="xv" text-anchor="end" transform="translate(440.15,477.8) rotate(-89.6)">3/08</text>
<text class="xv" text-anchor="end" transform="translate(444.33,477.8) rotate(-89.6)">3/09</text>
<text class="xv" text-anchor="end" transform="translate(448.51,477.8) rotate(-89.6)">3/10</text>
<text class="xv" text-anchor="end" transform="translate(452.69,477.8) rotate(-89.6)">3/11</text>
<text class="xv" text-anchor="end" transform="translate(456.86,477.8) rotate(-89.6)">3/12</text>
<text class="xv" text-anchor="end" transform="translate(461.04,477.8) rotate(-89.6)">3/13</text>
<text class="xv" text-anchor="end" transform="translate(465.22,477.8) rotate(-89.6)">3/14</text>
<text class="xv" text-anchor="end" transform="translate(469.39,477.8) rotate(-89.6)">3/15</text>
<text class="xv" text-anchor="end" transform="translate(473.57,477.8) rotate(-89.6)">3/16</text>
<text class="xv" text-anchor="end" transform="translate(477.75,477.8) rotate(-89.6)">3/17</text>
<text class="xv" text-anchor="end" transform="translate(481.92,477.8) rotate(-89.6)">3/18</text>
<text class="xv" text-anchor="end" transform="translate(486.1,477.8) rotate(-89.6)">3/19</text>
<text class="xv" text-anchor="end" transform="translate(490.28,477.8) rotate(-89.6)">3/20</text>
<text class="xv" text-anchor="end" transform="translate(494.45,477.8) rotate(-89.6)">3/21</text>
<text class="xv" text-anchor="end" transform="translate(498.63,477.8) rotate(-89.6)">3/22</text>
<text class="xv" text-anchor="end" transform="translate(502.81,477.8) rotate(-89.6)">3/23</text>
<text class="xv" text-anchor="end" transform="translate(506.99,477.8) rotate(-89.6)">3/24</text>
<text class="xv" text-anchor="end" transform="translate(511.16,477.8) rotate(-89.6)">3/25</text>
<text class="xv" text-anchor="end" transform="translate(515.34,477.8) rotate(-89.6)">3/26</text>
<text class="xv" text-anchor="end" transform="translate(519.52,477.8) rotate(-89.6)">3/27</text>
<text class="xv" text-anchor="end" transform="translate(523.69,477.8) rotate(-89.6)">3/28</text>
<text class="xv" text-anchor="end" transform="translate(527.87,477.8) rotate(-89.6)">3/29</text>
<text class="xv" text-anchor="end" transform="translate(532.05,477.8) rotate(-89.6)">3/30</text>
<text class="xv" text-anchor="end" transform="translate(536.23,477.8) rotate(-89.6)">3/31</text>
<text class="xv" text-anchor="end" transform="translate(540.4,477.8) rotate(-89.6)">4/01</text>
<text class="xv" text-anchor="end" transform="translate(544.58,477.8) rotate(-89.6)">4/02</text>
<text class="xv" text-anchor="end" transform="translate(548.76,477.8) rotate(-89.6)">4/03</text>
<text class="xv" text-anchor="end" transform="translate(552.93,477.8) rotate(-89.6)">4/04</text>
<text class="xv" text-anchor="end" transform="translate(557.11,477.8) rotate(-89.6)">4/05</text>
<text class="xv" text-anchor="end" transform="translate(561.29,477.8) rotate(-89.6)">4/06</text>
<text class="xv" text-anchor="end" transform="translate(565.46,477.8) rotate(-89.6)">4/07</text>
<text class="xv" text-anchor="end" transform="translate(569.64,477.8) rotate(-89.6)">4/08</text>
<text class="xv" text-anchor="end" transform="translate(573.82,477.8) rotate(-89.6)">4/09</text>
<text class="xv" text-anchor="end" transform="translate(578,477.8) rotate(-89.6)">4/10</text>
<text class="xv" text-anchor="end" transform="translate(582.17,477.8) rotate(-89.6)">4/11</text>
<text class="xv" text-anchor="end" transform="translate(586.35,477.8) rotate(-89.6)">4/12</text>
<text class="xv" text-anchor="end" transform="translate(590.53,477.8) rotate(-89.6)">4/13</text>
<text class="xv" text-anchor="end" transform="translate(594.7,477.8) rotate(-89.6)">4/14</text>
<text class="xv" text-anchor="end" transform="translate(598.88,477.8) rotate(-89.6)">4/15</text>
<text class="xv" text-anchor="end" transform="translate(603.06,477.8) rotate(-89.6)">4/16</text>
<text class="xv" text-anchor="end" transform="translate(607.23,477.8) rotate(-89.6)">4/17</text>
<text class="xv" text-anchor="end" transform="translate(611.41,477.8) rotate(-89.6)">4/18</text>
<text class="xv" text-anchor="end" transform="translate(615.59,477.8) rotate(-89.6)">4/19</text>
<text class="xv" text-anchor="end" transform="translate(619.76,477.8) rotate(-89.6)">4/20</text>
<text class="xv" text-anchor="end" transform="translate(623.94,477.8) rotate(-89.6)">4/21</text>
<text class="xv" text-anchor="end" transform="translate(628.12,477.8) rotate(-89.6)">4/22</text>
<text class="xv" text-anchor="end" transform="translate(632.3,477.8) rotate(-89.6)">4/23</text>
<text class="xv" text-anchor="end" transform="translate(636.47,477.8) rotate(-89.6)">4/24</text>
<text class="xv" text-anchor="end" transform="translate(640.65,477.8) rotate(-89.6)">4/25</text>
<text class="xv" text-anchor="end" transform="translate(644.83,477.8) rotate(-89.6)">4/26</text>
<text class="xv" text-anchor="end" transform="translate(649,477.8) rotate(-89.6)">4/27</text>
<text class="xv" text-anchor="end" transform="translate(653.18,477.8) rotate(-89.6)">4/28</text>
<text class="xv" text-anchor="end" transform="translate(657.36,477.8) rotate(-89.6)">4/29</text>
<text class="xv" text-anchor="end" transform="translate(661.53,477.8) rotate(-89.6)">4/30</text>
<text class="xv" text-anchor="end" transform="translate(665.71,477.8) rotate(-89.6)">5/01</text>
<text class="xv" text-anchor="end" transform="translate(669.89,477.8) rotate(-89.6)">5/02</text>
<text class="xv" text-anchor="end" transform="translate(674.07,477.8) rotate(-89.6)">5/03</text>
<text class="xv" text-anchor="end" transform="translate(678.24,477.8) rotate(-89.6)">5/04</text>
<text class="xv" text-anchor="end" transform="translate(682.42,477.8) rotate(-89.6)">5/05</text>
<text class="xv" text-anchor="end" transform="translate(686.6,477.8) rotate(-89.6)">5/06</text>
<text class="xv" text-anchor="end" transform="translate(690.77,477.8) rotate(-89.6)">5/07</text>
<text class="xv" text-anchor="end" transform="translate(694.95,477.8) rotate(-89.6)">5/08</text>
<text class="xv" text-anchor="end" transform="translate(699.13,477.8) rotate(-89.6)">5/09</text>
<text class="xv" text-anchor="end" transform="translate(703.31,477.8) rotate(-89.6)">5/10</text>
<text class="xv" text-anchor="end" transform="translate(707.48,477.8) rotate(-89.6)">5/11</text>
<text class="xv" text-anchor="end" transform="translate(711.66,477.8) rotate(-89.6)">5/12</text>
<text class="xv" text-anchor="end" transform="translate(715.84,477.8) rotate(-89.6)">5/13</text>
<text class="xv" text-anchor="end" transform="translate(720.01,477.8) rotate(-89.6)">5/14</text>
<text class="xv" text-anchor="end" transform="translate(724.19,477.8) rotate(-89.6)">5/15</text>
<rect x="427" y="488.9" width="299.5" height="2.4" fill="#e6e6e6"/>
<rect x="427" y="488.9" width="268.5" height="2.4" fill="#c2c2c2"/>
<g clip-path="url(#c4)">
<path class="ul" d="M501.31 464 L503.4 463.11 L505.49 462.16 L507.57 461.15 L509.66 460.06 L511.75 458.89 L513.84 457.64 L515.93 456.3 L518.02 454.86 L520.11 453.32 L522.19 451.66 L524.28 449.89 L526.37 447.99 L528.46 445.96 L530.55 443.78 L532.64 441.44 L534.73 438.93 L536.81 436.24 L538.9 433.36 L540.99 430.28 L543.08 426.97 L545.17 423.42 L547.26 419.62 L549.34 415.54 L551.43 411.17 L553.52 406.49 L555.61 401.47 L557.7 396.09 L559.79 390.32 L561.88 384.14 L563.96 377.51 L566.05 370.4 L568.14 362.79 L570.23 354.63 L572.32 345.88 L574.41 336.5"/>
<path class="cl" d="M501.31 473.57 L503.42 473.38 L505.54 473.16 L507.65 472.94 L509.77 472.69 L511.88 472.43 L514 472.15 L516.11 471.85 L518.23 471.53 L520.34 471.18 L522.46 470.81 L524.57 470.42 L526.68 469.99 L528.8 469.53 L530.91 469.04 L533.03 468.52 L535.14 467.95 L537.26 467.35 L539.37 466.7 L541.49 466 L543.6 465.26 L545.72 464.46 L547.83 463.6 L549.94 462.68 L552.06 461.69 L554.17 460.63 L556.29 459.5 L558.4 458.28 L560.52 456.97 L562.63 455.57 L564.75 454.07 L566.86 452.46 L568.98 450.74 L571.09 448.88 L573.21 446.9 L575.32 444.77 L577.43 442.48 L579.55 440.03 L581.66 437.4 L583.78 434.59 L585.89 431.56 L588.01 428.32 L590.12 424.85 L592.24 421.12 L594.35 417.12 L596.47 412.83 L598.58 408.23 L600.7 403.3 L602.81 398.01"/>
<path class="ll dt" d="M513.84 475.39 L515.96 475.32 L518.08 475.25 L520.2 475.17 L522.31 475.09 L524.43 475 L526.55 474.9 L528.67 474.79 L530.79 474.68 L532.91 474.56 L535.02 474.43 L537.14 474.29 L539.26 474.14 L541.38 473.98 L543.5 473.8 L545.62 473.62 L547.73 473.41 L549.85 473.2 L551.97 472.97 L554.09 472.72 L556.21 472.45 L558.33 472.16 L560.44 471.85 L562.56 471.52 L564.68 471.16 L566.8 470.77 L568.92 470.36 L571.04 469.91 L573.15 469.43 L575.27 468.92 L577.39 468.37 L579.51 467.77 L581.63 467.13 L583.75 466.45 L585.86 465.71 L587.98 464.92 L590.1 464.06 L592.22 463.15 L594.34 462.16 L596.46 461.1 L598.57 459.97 L600.69 458.74 L602.81 457.43"/>
<path class="ul dt" d="M605.73 362.01 L607.82 362.36 L609.91 362.7 L612 363.05 L614.09 363.39 L616.18 363.73 L618.26 364.07 L620.35 364.41 L622.44 364.75 L624.53 365.09 L626.62 365.42 L628.71 365.76 L630.8 366.09 L632.88 366.42 L634.97 366.76 L637.06 367.09 L639.15 367.42 L641.24 367.75 L643.33 368.08 L645.42 368.4 L647.5 368.73 L649.59 369.05 L651.68 369.38 L653.77 369.7 L655.86 370.02 L657.95 370.35 L660.03 370.67 L662.12 370.98 L664.21 371.3 L666.3 371.62 L668.39 371.94 L670.48 372.25 L672.57 372.57 L674.65 372.88 L676.74 373.19 L678.83 373.51 L680.92 373.82 L683.01 374.13 L685.1 374.43 L687.19 374.74 L689.27 375.05 L691.36 375.36 L693.45 375.66 L695.54 375.97 L697.63 376.27 L699.72 376.57 L701.81 376.87 L703.89 377.17 L705.98 377.47 L708.07 377.77 L710.16 378.07 L712.25 378.37 L714.34 378.66 L716.42 378.96 L718.51 379.25 L720.6 379.55 L722.69 379.84"/>
<path class="cl" d="M605.73 448.34 L607.82 448.42 L609.91 448.5 L612 448.58 L614.09 448.66 L616.18 448.74 L618.26 448.81 L620.35 448.89 L622.44 448.97 L624.53 449.05 L626.62 449.13 L628.71 449.2 L630.8 449.28 L632.88 449.36 L634.97 449.43 L637.06 449.51 L639.15 449.59 L641.24 449.66 L643.33 449.74 L645.42 449.81 L647.5 449.89 L649.59 449.96 L651.68 450.04 L653.77 450.11 L655.86 450.19 L657.95 450.26 L660.03 450.34 L662.12 450.41 L664.21 450.49 L666.3 450.56 L668.39 450.63 L670.48 450.71 L672.57 450.78 L674.65 450.85 L676.74 450.92 L678.83 451 L680.92 451.07 L683.01 451.14 L685.1 451.21 L687.19 451.28 L689.27 451.35 L691.36 451.42 L693.45 451.5 L695.54 451.57 L697.63 451.64 L699.72 451.71 L701.81 451.78 L703.89 451.85 L705.98 451.92 L708.07 451.99 L710.16 452.05 L712.25 452.12 L714.34 452.19 L716.42 452.26 L718.51 452.33 L720.6 452.4 L722.69 452.47 L724.78 452.53"/>
<path class="ll dt" d="M605.73 469.45 L607.82 469.47 L609.91 469.48 L612 469.5 L614.09 469.52 L616.18 469.53 L618.26 469.55 L620.35 469.57 L622.44 469.59 L624.53 469.6 L626.62 469.62 L628.71 469.64 L630.8 469.65 L632.88 469.67 L634.97 469.69 L637.06 469.7 L639.15 469.72 L641.24 469.73 L643.33 469.75 L645.42 469.77 L647.5 469.78 L649.59 469.8 L651.68 469.82 L653.77 469.83 L655.86 469.85 L657.95 469.86 L660.03 469.88 L662.12 469.9 L664.21 469.91 L666.3 469.93 L668.39 469.94 L670.48 469.96 L672.57 469.98 L674.65 469.99 L676.74 470.01 L678.83 470.02 L680.92 470.04 L683.01 470.05 L685.1 470.07 L687.19 470.09 L689.27 470.1 L691.36 470.12 L693.45 470.13 L695.54 470.15 L697.63 470.16 L699.72 470.18 L701.81 470.19 L703.89 470.21 L705.98 470.22 L708.07 470.24 L710.16 470.25 L712.25 470.27 L714.34 470.28 L716.42 470.3 L718.51 470.31 L720.6 470.33 L722.69 470.34 L724.78 470.36"/>
<polyline class="dl" points="430.3,474.9 434.48,475.6 438.65,475.6 442.83,475.6 447.01,475.6 451.19,475.6 455.36,475.6 459.54,475.6 463.72,475.25 467.89,475.6 472.07,475.6 476.25,474.9 480.42,475.6 484.6,475.6 488.78,475.6 492.95,474.9 497.13,475.25 501.31,473.5 505.49,475.6 509.66,474.2 513.84,472.81 518.02,464.42 522.19,469.31 526.37,474.55 530.55,468.61 534.73,466.51 538.9,465.81 543.08,445.54 547.26,459.17 551.43,459.17 555.61,458.13 559.79,453.23 563.96,447.29 568.14,457.43 572.32,443.1 576.5,443.1 580.67,457.43 584.85,465.81 589.03,449.74 593.2,425.97 597.38,446.24 601.56,438.55 605.73,435.76 609.91,460.92 614.09,458.13 618.26,442.05 622.44,445.54 626.62,434.36 630.8,434.36 634.97,435.06 639.15,470.01 643.33,463.02 647.5,466.51 651.68,418.28 655.86,444.15 660.03,440.65 664.21,444.15 668.39,441.35 672.57,465.81 676.74,462.32 680.92,425.97 685.1,428.77 689.27,433.66 693.45,428.07 697.63,444.15 701.81,472.11 705.98,466.51 710.16,445.54 714.34,442.75 718.51,442.75 722.69,446.94"/>
<circle cx="430.3" cy="474.9" r="2.45"/>
<circle cx="434.48" cy="475.6" r="2.45"/>
<circle cx="438.65" cy="475.6" r="2.45"/>
<circle cx="442.83" cy="475.6" r="2.45"/>
<circle cx="447.01" cy="475.6" r="2.45"/>
<circle cx="451.19" cy="475.6" r="2.45"/>
<circle cx="455.36" cy="475.6" r="2.45"/>
<circle cx="459.54" cy="475.6" r="2.45"/>
<circle cx="463.72" cy="475.25" r="2.45"/>
<circle cx="467.89" cy="475.6" r="2.45"/>
<circle cx="472.07" cy="475.6" r="2.45"/>
<circle cx="476.25" cy="474.9" r="2.45"/>
<circle cx="480.42" cy="475.6" r="2.45"/>
<circle cx="484.6" cy="475.6" r="2.45"/>
<circle cx="488.78" cy="475.6" r="2.45"/>
<circle cx="492.95" cy="474.9" r="2.45"/>
<circle cx="497.13" cy="475.25" r="2.45"/>
<circle cx="501.31" cy="473.5" r="2.45"/>
<circle cx="505.49" cy="475.6" r="2.45"/>
<circle cx="509.66" cy="474.2" r="2.45"/>
<circle cx="513.84" cy="472.81" r="2.45"/>
<circle cx="518.02" cy="464.42" r="2.45"/>
<circle cx="522.19" cy="469.31" r="2.45"/>
<circle cx="526.37" cy="474.55" r="2.45"/>
<circle cx="530.55" cy="468.61" r="2.45"/>
<circle cx="534.73" cy="466.51" r="2.45"/>
<circle cx="538.9" cy="465.81" r="2.45"/>
<circle cx="543.08" cy="445.54" r="2.45"/>
<circle cx="547.26" cy="459.17" r="2.45"/>
<circle cx="551.43" cy="459.17" r="2.45"/>
<circle cx="555.61" cy="458.13" r="2.45"/>
<circle cx="559.79" cy="453.23" r="2.45"/>
<circle cx="563.96" cy="447.29" r="2.45"/>
<circle cx="568.14" cy="457.43" r="2.45"/>
<circle cx="572.32" cy="443.1" r="2.45"/>
<circle cx="576.5" cy="443.1" r="2.45"/>
<circle cx="580.67" cy="457.43" r="2.45"/>
<circle cx="584.85" cy="465.81" r="2.45"/>
<circle cx="589.03" cy="449.74" r="2.45"/>
<circle cx="593.2" cy="425.97" r="2.45"/>
<circle cx="597.38" cy="446.24" r="2.45"/>
<circle cx="601.56" cy="438.55" r="2.45"/>
<circle cx="605.73" cy="435.76" r="2.45"/>
<circle cx="609.91" cy="460.92" r="2.45"/>
<circle cx="614.09" cy="458.13" r="2.45"/>
<circle cx="618.26" cy="442.05" r="2.45"/>
<circle cx="622.44" cy="445.54" r="2.45"/>
<circle cx="626.62" cy="434.36" r="2.45"/>
<circle cx="630.8" cy="434.36" r="2.45"/>
<circle cx="634.97" cy="435.06" r="2.45"/>
<circle cx="639.15" cy="470.01" r="2.45"/>
<circle cx="643.33" cy="463.02" r="2.45"/>
<circle cx="647.5" cy="466.51" r="2.45"/>
<circle cx="651.68" cy="418.28" r="2.45"/>
<circle cx="655.86" cy="444.15" r="2.45"/>
<circle cx="660.03" cy="440.65" r="2.45"/>
<circle cx="664.21" cy="444.15" r="2.45"/>
<circle cx="668.39" cy="441.35" r="2.45"/>
<circle cx="672.57" cy="465.81" r="2.45"/>
<circle cx="676.74" cy="462.32" r="2.45"/>
<circle cx="680.92" cy="425.97" r="2.45"/>
<circle cx="685.1" cy="428.77" r="2.45"/>
<circle cx="689.27" cy="433.66" r="2.45"/>
<circle cx="693.45" cy="428.07" r="2.45"/>
<circle cx="697.63" cy="444.15" r="2.45"/>
<circle cx="701.81" cy="472.11" r="2.45"/>
<circle cx="705.98" cy="466.51" r="2.45"/>
<circle cx="710.16" cy="445.54" r="2.45"/>
<circle cx="714.34" cy="442.75" r="2.45"/>
<circle cx="718.51" cy="442.75" r="2.45"/>
<circle cx="722.69" cy="446.94" r="2.45"/>
</g>
</g>
<g>
<clipPath id="c5"><rect x="742.5" y="329.5" width="318" height="146.2"/></clipPath>
<text class="ct" transform="translate(902,324.9) scale(0.89,1)" text-anchor="middle">Georgia</text>
<rect x="742.5" y="328.5" width="319" height="163" fill="#fff" stroke="#c4c4c4" stroke-width="1"/>
<text class="yl" transform="translate(758.5,478.55) scale(0.94,1)" text-anchor="end">0</text>
<line class="g" x1="760.5" x2="1058.5" y1="444.2" y2="444.2"/>
<text class="yl" transform="translate(758.5,447.05) scale(0.94,1)" text-anchor="end">50</text>
<line class="g" x1="760.5" x2="1058.5" y1="412.7" y2="412.7"/>
<text class="yl" transform="translate(758.5,415.55) scale(0.94,1)" text-anchor="end">100</text>
<line class="g" x1="760.5" x2="1058.5" y1="381.2" y2="381.2"/>
<text class="yl" transform="translate(758.5,384.05) scale(0.94,1)" text-anchor="end">150</text>
<line class="g" x1="760.5" x2="1058.5" y1="349.7" y2="349.7"/>
<text class="yl" transform="translate(758.5,352.55) scale(0.94,1)" text-anchor="end">200</text>
<text class="xv" text-anchor="end" transform="translate(765.8,477.2) rotate(-89.6)">3/12</text>
<text class="xv" text-anchor="end" transform="translate(769.98,477.2) rotate(-89.6)">3/13</text>
<text class="xv" text-anchor="end" transform="translate(774.15,477.2) rotate(-89.6)">3/14</text>
<text class="xv" text-anchor="end" transform="translate(778.33,477.2) rotate(-89.6)">3/15</text>
<text class="xv" text-anchor="end" transform="translate(782.5,477.2) rotate(-89.6)">3/16</text>
<text class="xv" text-anchor="end" transform="translate(786.68,477.2) rotate(-89.6)">3/17</text>
<text class="xv" text-anchor="end" transform="translate(790.86,477.2) rotate(-89.6)">3/18</text>
<text class="xv" text-anchor="end" transform="translate(795.03,477.2) rotate(-89.6)">3/19</text>
<text class="xv" text-anchor="end" transform="translate(799.21,477.2) rotate(-89.6)">3/20</text>
<text class="xv" text-anchor="end" transform="translate(803.38,477.2) rotate(-89.6)">3/21</text>
<text class="xv" text-anchor="end" transform="translate(807.56,477.2) rotate(-89.6)">3/22</text>
<text class="xv" text-anchor="end" transform="translate(811.74,477.2) rotate(-89.6)">3/23</text>
<text class="xv" text-anchor="end" transform="translate(815.91,477.2) rotate(-89.6)">3/24</text>
<text class="xv" text-anchor="end" transform="translate(820.09,477.2) rotate(-89.6)">3/25</text>
<text class="xv" text-anchor="end" transform="translate(824.26,477.2) rotate(-89.6)">3/26</text>
<text class="xv" text-anchor="end" transform="translate(828.44,477.2) rotate(-89.6)">3/27</text>
<text class="xv" text-anchor="end" transform="translate(832.62,477.2) rotate(-89.6)">3/28</text>
<text class="xv" text-anchor="end" transform="translate(836.79,477.2) rotate(-89.6)">3/29</text>
<text class="xv" text-anchor="end" transform="translate(840.97,477.2) rotate(-89.6)">3/30</text>
<text class="xv" text-anchor="end" transform="translate(845.14,477.2) rotate(-89.6)">3/31</text>
<text class="xv" text-anchor="end" transform="translate(849.32,477.2) rotate(-89.6)">4/01</text>
<text class="xv" text-anchor="end" transform="translate(853.5,477.2) rotate(-89.6)">4/02</text>
<text class="xv" text-anchor="end" transform="translate(857.67,477.2) rotate(-89.6)">4/03</text>
<text class="xv" text-anchor="end" transform="translate(861.85,477.2) rotate(-89.6)">4/04</text>
<text class="xv" text-anchor="end" transform="translate(866.02,477.2) rotate(-89.6)">4/05</text>
<text class="xv" text-anchor="end" transform="translate(870.2,477.2) rotate(-89.6)">4/06</text>
<text class="xv" text-anchor="end" transform="translate(874.38,477.2) rotate(-89.6)">4/07</text>
<text class="xv" text-anchor="end" transform="translate(878.55,477.2) rotate(-89.6)">4/08</text>
<text class="xv" text-anchor="end" transform="translate(882.73,477.2) rotate(-89.6)">4/09</text>
<text class="xv" text-anchor="end" transform="translate(886.9,477.2) rotate(-89.6)">4/10</text>
<text class="xv" text-anchor="end" transform="translate(891.08,477.2) rotate(-89.6)">4/11</text>
<text class="xv" text-anchor="end" transform="translate(895.26,477.2) rotate(-89.6)">4/12</text>
<text class="xv" text-anchor="end" transform="translate(899.43,477.2) rotate(-89.6)">4/13</text>
<text class="xv" text-anchor="end" transform="translate(903.61,477.2) rotate(-89.6)">4/14</text>
<text class="xv" text-anchor="end" transform="translate(907.78,477.2) rotate(-89.6)">4/15</text>
<text class="xv" text-anchor="end" transform="translate(911.96,477.2) rotate(-89.6)">4/16</text>
<text class="xv" text-anchor="end" transform="translate(916.14,477.2) rotate(-89.6)">4/17</text>
<text class="xv" text-anchor="end" transform="translate(920.31,477.2) rotate(-89.6)">4/18</text>
<text class="xv" text-anchor="end" transform="translate(924.49,477.2) rotate(-89.6)">4/19</text>
<text class="xv" text-anchor="end" transform="translate(928.66,477.2) rotate(-89.6)">4/20</text>
<text class="xv" text-anchor="end" transform="translate(932.84,477.2) rotate(-89.6)">4/21</text>
<text class="xv" text-anchor="end" transform="translate(937.02,477.2) rotate(-89.6)">4/22</text>
<text class="xv" text-anchor="end" transform="translate(941.19,477.2) rotate(-89.6)">4/23</text>
<text class="xv" text-anchor="end" transform="translate(945.37,477.2) rotate(-89.6)">4/24</text>
<text class="xv" text-anchor="end" transform="translate(949.54,477.2) rotate(-89.6)">4/25</text>
<text class="xv" text-anchor="end" transform="translate(953.72,477.2) rotate(-89.6)">4/26</text>
<text class="xv" text-anchor="end" transform="translate(957.9,477.2) rotate(-89.6)">4/27</text>
<text class="xv" text-anchor="end" transform="translate(962.07,477.2) rotate(-89.6)">4/28</text>
<text class="xv" text-anchor="end" transform="translate(966.25,477.2) rotate(-89.6)">4/29</text>
<text class="xv" text-anchor="end" transform="translate(970.42,477.2) rotate(-89.6)">4/30</text>
<text class="xv" text-anchor="end" transform="translate(974.6,477.2) rotate(-89.6)">5/01</text>
<text class="xv" text-anchor="end" transform="translate(978.78,477.2) rotate(-89.6)">5/02</text>
<text class="xv" text-anchor="end" transform="translate(982.95,477.2) rotate(-89.6)">5/03</text>
<text class="xv" text-anchor="end" transform="translate(987.13,477.2) rotate(-89.6)">5/04</text>
<text class="xv" text-anchor="end" transform="translate(991.3,477.2) rotate(-89.6)">5/05</text>
<text class="xv" text-anchor="end" transform="translate(995.48,477.2) rotate(-89.6)">5/06</text>
<text class="xv" text-anchor="end" transform="translate(999.66,477.2) rotate(-89.6)">5/07</text>
<text class="xv" text-anchor="end" transform="translate(1003.83,477.2) rotate(-89.6)">5/08</text>
<text class="xv" text-anchor="end" transform="translate(1008.01,477.2) rotate(-89.6)">5/09</text>
<text class="xv" text-anchor="end" transform="translate(1012.18,477.2) rotate(-89.6)">5/10</text>
<text class="xv" text-anchor="end" transform="translate(1016.36,477.2) rotate(-89.6)">5/11</text>
<text class="xv" text-anchor="end" transform="translate(1020.54,477.2) rotate(-89.6)">5/12</text>
<text class="xv" text-anchor="end" transform="translate(1024.71,477.2) rotate(-89.6)">5/13</text>
<text class="xv" text-anchor="end" transform="translate(1028.89,477.2) rotate(-89.6)">5/14</text>
<text class="xv" text-anchor="end" transform="translate(1033.06,477.2) rotate(-89.6)">5/15</text>
<text class="xv" text-anchor="end" transform="translate(1037.24,477.2) rotate(-89.6)">5/16</text>
<text class="xv" text-anchor="end" transform="translate(1041.42,477.2) rotate(-89.6)">5/17</text>
<text class="xv" text-anchor="end" transform="translate(1045.59,477.2) rotate(-89.6)">5/18</text>
<text class="xv" text-anchor="end" transform="translate(1049.77,477.2) rotate(-89.6)">5/19</text>
<text class="xv" text-anchor="end" transform="translate(1053.94,477.2) rotate(-89.6)">5/20</text>
<text class="xv" text-anchor="end" transform="translate(1058.12,477.2) rotate(-89.6)">5/21</text>
<rect x="761" y="488.9" width="299.5" height="2.4" fill="#e6e6e6"/>
<rect x="761" y="488.9" width="290.7" height="2.4" fill="#c2c2c2"/>
<g clip-path="url(#c5)">
<path class="ul" d="M793.53 463.48 L795.63 462.76 L797.73 461.99 L799.83 461.18 L801.92 460.32 L804.02 459.41 L806.12 458.45 L808.22 457.43 L810.31 456.35 L812.41 455.21 L814.51 454 L816.61 452.72 L818.7 451.36 L820.8 449.92 L822.9 448.4 L825 446.79 L827.1 445.08 L829.19 443.27 L831.29 441.35 L833.39 439.32 L835.49 437.17 L837.58 434.9 L839.68 432.49 L841.78 429.93 L843.88 427.23 L845.97 424.36 L848.07 421.33 L850.17 418.12 L852.27 414.72 L854.37 411.11 L856.46 407.3 L858.56 403.26 L860.66 398.98 L862.76 394.44 L864.85 389.64 L866.95 384.56 L869.05 379.17 L871.15 373.47 L873.25 367.43 L875.34 361.03 L877.44 354.25 L879.54 347.08 L881.64 339.48 L883.73 331.43"/>
<path class="cl" d="M793.53 473.12 L795.64 472.97 L797.74 472.8 L799.84 472.63 L801.95 472.45 L804.05 472.26 L806.16 472.06 L808.26 471.85 L810.36 471.62 L812.47 471.38 L814.57 471.13 L816.68 470.86 L818.78 470.57 L820.88 470.27 L822.99 469.95 L825.09 469.61 L827.2 469.26 L829.3 468.88 L831.41 468.48 L833.51 468.05 L835.61 467.6 L837.72 467.13 L839.82 466.62 L841.93 466.09 L844.03 465.52 L846.13 464.92 L848.24 464.29 L850.34 463.62 L852.45 462.91 L854.55 462.16 L856.65 461.36 L858.76 460.52 L860.86 459.62 L862.97 458.68 L865.07 457.68 L867.17 456.62 L869.28 455.5 L871.38 454.31 L873.49 453.05 L875.59 451.72 L877.69 450.31 L879.8 448.82 L881.9 447.24 L884.01 445.56 L886.11 443.79 L888.21 441.91 L890.32 439.93 L892.42 437.82 L894.53 435.6 L896.63 433.24 L898.74 430.74 L900.84 428.1 L902.94 425.3"/>
<path class="ll dt" d="M793.53 475.16 L795.62 475.13 L797.71 475.1 L799.8 475.06 L801.88 475.03 L803.97 474.99 L806.06 474.95 L808.15 474.9 L810.24 474.85 L812.32 474.81 L814.41 474.75 L816.5 474.7 L818.59 474.64 L820.68 474.58 L822.76 474.51 L824.85 474.44 L826.94 474.37 L829.03 474.29 L831.12 474.21 L833.2 474.12 L835.29 474.02 L837.38 473.93 L839.47 473.82 L841.56 473.71 L843.64 473.6 L845.73 473.47 L847.82 473.34 L849.91 473.2 L852 473.06 L854.08 472.9 L856.17 472.74 L858.26 472.56 L860.35 472.38 L862.44 472.18 L864.52 471.98 L866.61 471.76 L868.7 471.53 L870.79 471.28 L872.88 471.02 L874.96 470.75 L877.05 470.46 L879.14 470.15 L881.23 469.82 L883.32 469.48 L885.4 469.11 L887.49 468.73 L889.58 468.32 L891.67 467.88 L893.76 467.43 L895.84 466.94 L897.93 466.43 L900.02 465.88 L902.11 465.31"/>
<path class="ul dt" d="M965.58 369.86 L967.67 370.57 L969.76 371.27 L971.85 371.97 L973.94 372.67 L976.02 373.36 L978.11 374.04 L980.2 374.72 L982.29 375.4 L984.38 376.07 L986.46 376.74 L988.55 377.4 L990.64 378.06 L992.73 378.71 L994.82 379.36 L996.9 380.01 L998.99 380.65 L1001.08 381.28 L1003.17 381.92 L1005.26 382.55 L1007.34 383.17 L1009.43 383.79 L1011.52 384.4 L1013.61 385.02 L1015.7 385.62 L1017.78 386.23 L1019.87 386.83 L1021.96 387.42 L1024.05 388.01 L1026.14 388.6 L1028.22 389.18 L1030.31 389.76 L1032.4 390.34 L1034.49 390.91 L1036.58 391.48 L1038.66 392.04 L1040.75 392.6 L1042.84 393.16 L1044.93 393.71 L1047.02 394.26 L1049.1 394.8 L1051.19 395.35 L1053.28 395.88 L1055.37 396.42 L1057.46 396.95"/>
<path class="cl" d="M906.7 455.35 L908.8 455.49 L910.89 455.63 L912.98 455.77 L915.08 455.9 L917.17 456.04 L919.26 456.17 L921.36 456.31 L923.45 456.44 L925.55 456.57 L927.64 456.7 L929.73 456.83 L931.83 456.96 L933.92 457.09 L936.01 457.22 L938.11 457.34 L940.2 457.47 L942.3 457.59 L944.39 457.72 L946.48 457.84 L948.58 457.96 L950.67 458.08 L952.77 458.2 L954.86 458.32 L956.95 458.44 L959.05 458.56 L961.14 458.68 L963.23 458.79 L965.33 458.91 L967.42 459.03 L969.52 459.14 L971.61 459.25 L973.7 459.37 L975.8 459.48 L977.89 459.59 L979.98 459.7 L982.08 459.81 L984.17 459.92 L986.27 460.02 L988.36 460.13 L990.45 460.24 L992.55 460.34 L994.64 460.45 L996.73 460.55 L998.83 460.66 L1000.92 460.76 L1003.02 460.86 L1005.11 460.96 L1007.2 461.07 L1009.3 461.17 L1011.39 461.26 L1013.49 461.36 L1015.58 461.46 L1017.67 461.56 L1019.77 461.66 L1021.86 461.75 L1023.95 461.85 L1026.05 461.94 L1028.14 462.04 L1030.24 462.13 L1032.33 462.22 L1034.42 462.32 L1036.52 462.41 L1038.61 462.5 L1040.7 462.59 L1042.8 462.68 L1044.89 462.77 L1046.99 462.86 L1049.08 462.94 L1051.17 463.03 L1053.27 463.12 L1055.36 463.2 L1057.46 463.29"/>
<path class="ll dt" d="M906.7 472.49 L908.8 472.52 L910.89 472.54 L912.98 472.57 L915.08 472.6 L917.17 472.63 L919.26 472.65 L921.36 472.68 L923.45 472.71 L925.55 472.73 L927.64 472.76 L929.73 472.78 L931.83 472.81 L933.92 472.84 L936.01 472.86 L938.11 472.89 L940.2 472.91 L942.3 472.93 L944.39 472.96 L946.48 472.98 L948.58 473.01 L950.67 473.03 L952.77 473.05 L954.86 473.08 L956.95 473.1 L959.05 473.12 L961.14 473.15 L963.23 473.17 L965.33 473.19 L967.42 473.21 L969.52 473.23 L971.61 473.26 L973.7 473.28 L975.8 473.3 L977.89 473.32 L979.98 473.34 L982.08 473.36 L984.17 473.38 L986.27 473.4 L988.36 473.42 L990.45 473.44 L992.55 473.46 L994.64 473.48 L996.73 473.5 L998.83 473.52 L1000.92 473.54 L1003.02 473.56 L1005.11 473.58 L1007.2 473.6 L1009.3 473.62 L1011.39 473.63 L1013.49 473.65 L1015.58 473.67 L1017.67 473.69 L1019.77 473.71 L1021.86 473.72 L1023.95 473.74 L1026.05 473.76 L1028.14 473.78 L1030.24 473.79 L1032.33 473.81 L1034.42 473.83 L1036.52 473.84 L1038.61 473.86 L1040.7 473.87 L1042.8 473.89 L1044.89 473.91 L1046.99 473.92 L1049.08 473.94 L1051.17 473.95 L1053.27 473.97 L1055.36 473.98 L1057.46 474"/>
<polyline class="dl" points="764.3,475.07 768.48,475.07 772.65,475.07 776.83,475.07 781,475.07 785.18,475.07 789.36,474.44 793.53,471.29 797.71,473.18 801.88,471.92 806.06,472.55 810.24,475.07 814.41,467.51 818.59,470.03 822.76,470.03 826.94,470.66 831.12,466.25 835.29,473.5 839.47,464.36 843.64,461.21 847.82,457.43 852,461.84 856.17,461.84 860.35,469.71 864.52,469.08 868.7,428.76 872.88,441.68 877.05,461.84 881.23,449.24 885.4,467.82 889.58,471.29 893.76,472.24 897.93,449.87 902.11,452.07 906.28,443.13 910.46,449.24 914.64,444.2 918.81,470.22 922.99,468.33 927.16,422.34 931.34,448.61 935.52,458.88 939.69,454.47 943.87,464.55 948.04,470.66 952.22,469.59 956.4,429.21 960.57,449.87 964.75,435.63 968.92,453.65 973.1,455.54 977.28,470.66 981.45,471.29 985.63,438.09 989.8,444.96 993.98,455.54 998.16,460.71 1002.33,447.54 1006.51,474 1010.68,473.81 1014.86,452.58 1019.04,444.33 1023.21,460.71 1027.39,458.88 1031.56,449.43 1035.74,469.71 1039.92,469.15 1044.09,450.75 1048.27,459.51"/>
<circle cx="764.3" cy="475.07" r="2.45"/>
<circle cx="768.48" cy="475.07" r="2.45"/>
<circle cx="772.65" cy="475.07" r="2.45"/>
<circle cx="776.83" cy="475.07" r="2.45"/>
<circle cx="781" cy="475.07" r="2.45"/>
<circle cx="785.18" cy="475.07" r="2.45"/>
<circle cx="789.36" cy="474.44" r="2.45"/>
<circle cx="793.53" cy="471.29" r="2.45"/>
<circle cx="797.71" cy="473.18" r="2.45"/>
<circle cx="801.88" cy="471.92" r="2.45"/>
<circle cx="806.06" cy="472.55" r="2.45"/>
<circle cx="810.24" cy="475.07" r="2.45"/>
<circle cx="814.41" cy="467.51" r="2.45"/>
<circle cx="818.59" cy="470.03" r="2.45"/>
<circle cx="822.76" cy="470.03" r="2.45"/>
<circle cx="826.94" cy="470.66" r="2.45"/>
<circle cx="831.12" cy="466.25" r="2.45"/>
<circle cx="835.29" cy="473.5" r="2.45"/>
<circle cx="839.47" cy="464.36" r="2.45"/>
<circle cx="843.64" cy="461.21" r="2.45"/>
<circle cx="847.82" cy="457.43" r="2.45"/>
<circle cx="852" cy="461.84" r="2.45"/>
<circle cx="856.17" cy="461.84" r="2.45"/>
<circle cx="860.35" cy="469.71" r="2.45"/>
<circle cx="864.52" cy="469.08" r="2.45"/>
<circle cx="868.7" cy="428.76" r="2.45"/>
<circle cx="872.88" cy="441.68" r="2.45"/>
<circle cx="877.05" cy="461.84" r="2.45"/>
<circle cx="881.23" cy="449.24" r="2.45"/>
<circle cx="885.4" cy="467.82" r="2.45"/>
<circle cx="889.58" cy="471.29" r="2.45"/>
<circle cx="893.76" cy="472.24" r="2.45"/>
<circle cx="897.93" cy="449.87" r="2.45"/>
<circle cx="902.11" cy="452.07" r="2.45"/>
<circle cx="906.28" cy="443.13" r="2.45"/>
<circle cx="910.46" cy="449.24" r="2.45"/>
<circle cx="914.64" cy="444.2" r="2.45"/>
<circle cx="918.81" cy="470.22" r="2.45"/>
<circle cx="922.99" cy="468.33" r="2.45"/>
<circle cx="927.16" cy="422.34" r="2.45"/>
<circle cx="931.34" cy="448.61" r="2.45"/>
<circle cx="935.52" cy="458.88" r="2.45"/>
<circle cx="939.69" cy="454.47" r="2.45"/>
<circle cx="943.87" cy="464.55" r="2.45"/>
<circle cx="948.04" cy="470.66" r="2.45"/>
<circle cx="952.22" cy="469.59" r="2.45"/>
<circle cx="956.4" cy="429.21" r="2.45"/>
<circle cx="960.57" cy="449.87" r="2.45"/>
<circle cx="964.75" cy="435.63" r="2.45"/>
<circle cx="968.92" cy="453.65" r="2.45"/>
<circle cx="973.1" cy="455.54" r="2.45"/>
<circle cx="977.28" cy="470.66" r="2.45"/>
<circle cx="981.45" cy="471.29" r="2.45"/>
<circle cx="985.63" cy="438.09" r="2.45"/>
<circle cx="989.8" cy="444.96" r="2.45"/>
<circle cx="993.98" cy="455.54" r="2.45"/>
<circle cx="998.16" cy="460.71" r="2.45"/>
<circle cx="1002.33" cy="447.54" r="2.45"/>
<circle cx="1006.51" cy="474" r="2.45"/>
<circle cx="1010.68" cy="473.81" r="2.45"/>
<circle cx="1014.86" cy="452.58" r="2.45"/>
<circle cx="1019.04" cy="444.33" r="2.45"/>
<circle cx="1023.21" cy="460.71" r="2.45"/>
<circle cx="1027.39" cy="458.88" r="2.45"/>
<circle cx="1031.56" cy="449.43" r="2.45"/>
<circle cx="1035.74" cy="469.71" r="2.45"/>
<circle cx="1039.92" cy="469.15" r="2.45"/>
<circle cx="1044.09" cy="450.75" r="2.45"/>
<circle cx="1048.27" cy="459.51" r="2.45"/>
</g>
</g>
<g>
<clipPath id="c6"><rect x="71.5" y="520.5" width="318" height="147.6"/></clipPath>
<text class="ct" transform="translate(231,515.9) scale(0.89,1)" text-anchor="middle">Indiana</text>
<rect x="71.5" y="519.5" width="319" height="162.5" fill="#fff" stroke="#c4c4c4" stroke-width="1"/>
<text class="yl" transform="translate(88,670.95) scale(0.94,1)" text-anchor="end">0</text>
<line class="g" x1="90" x2="387.5" y1="637.8" y2="637.8"/>
<text class="yl" transform="translate(88,640.65) scale(0.94,1)" text-anchor="end">50</text>
<line class="g" x1="90" x2="387.5" y1="607.5" y2="607.5"/>
<text class="yl" transform="translate(88,610.35) scale(0.94,1)" text-anchor="end">100</text>
<line class="g" x1="90" x2="387.5" y1="577.2" y2="577.2"/>
<text class="yl" transform="translate(88,580.05) scale(0.94,1)" text-anchor="end">150</text>
<line class="g" x1="90" x2="387.5" y1="546.9" y2="546.9"/>
<text class="yl" transform="translate(88,549.75) scale(0.94,1)" text-anchor="end">200</text>
<g clip-path="url(#c6)">
<path class="ul" d="M123.97 659.62 L126.28 659.08 L128.6 658.5 L130.91 657.89 L133.23 657.24 L135.55 656.55 L137.86 655.81 L140.18 655.03 L142.49 654.19 L144.81 653.31 L147.12 652.36 L149.44 651.36 L151.75 650.3 L154.06 649.16 L156.38 647.95 L158.69 646.67 L161.01 645.3 L163.32 643.85 L165.64 642.31 L167.95 640.66 L170.27 638.92 L172.58 637.06 L174.9 635.08 L177.22 632.97 L179.53 630.73 L181.84 628.35 L184.16 625.82 L186.47 623.13 L188.79 620.26 L191.11 617.21 L193.42 613.97 L195.74 610.52 L198.05 606.85 L200.37 602.95 L202.68 598.8 L205 594.38 L207.31 589.68 L209.62 584.69 L211.94 579.37 L214.25 573.72 L216.57 567.7 L218.88 561.31 L221.2 554.5 L223.51 547.26 L225.83 539.56 L228.15 531.37 L230.46 522.66"/>
<path class="cl" d="M123.97 665.98 L126.28 665.84 L128.6 665.7 L130.91 665.55 L133.23 665.39 L135.55 665.22 L137.86 665.03 L140.18 664.84 L142.49 664.63 L144.81 664.41 L147.12 664.18 L149.44 663.93 L151.75 663.67 L154.06 663.38 L156.38 663.09 L158.69 662.77 L161.01 662.43 L163.32 662.07 L165.64 661.69 L167.95 661.28 L170.27 660.85 L172.58 660.39 L174.9 659.9 L177.22 659.38 L179.53 658.83 L181.84 658.24 L184.16 657.62 L186.47 656.95 L188.79 656.25 L191.11 655.5 L193.42 654.7 L195.74 653.85 L198.05 652.94 L200.37 651.98 L202.68 650.96 L205 649.88 L207.31 648.72 L209.62 647.49 L211.94 646.19 L214.25 644.8 L216.57 643.32 L218.88 641.75 L221.2 640.08 L223.51 638.3 L225.83 636.41 L228.15 634.41 L230.46 632.27 L232.78 630 L235.09 627.58 L237.41 625.02 L239.72 622.29"/>
<path class="ll dt" d="M123.97 667.55 L126.28 667.52 L128.6 667.48 L130.91 667.45 L133.23 667.4 L135.55 667.36 L137.86 667.31 L140.18 667.26 L142.49 667.21 L144.81 667.16 L147.12 667.1 L149.44 667.03 L151.75 666.97 L154.06 666.89 L156.38 666.82 L158.69 666.74 L161.01 666.65 L163.32 666.56 L165.64 666.46 L167.95 666.36 L170.27 666.25 L172.58 666.14 L174.9 666.01 L177.22 665.88 L179.53 665.74 L181.84 665.59 L184.16 665.44 L186.47 665.27 L188.79 665.09 L191.11 664.9 L193.42 664.7 L195.74 664.49 L198.05 664.26 L200.37 664.02 L202.68 663.76 L205 663.49 L207.31 663.2 L209.62 662.89 L211.94 662.56 L214.25 662.21 L216.57 661.84 L218.88 661.45 L221.2 661.03 L223.51 660.59 L225.83 660.11 L228.15 659.61 L230.46 659.08 L232.78 658.51 L235.09 657.91 L237.41 657.27 L239.72 656.59"/>
<polyline class="dl" points="91.56,668.1 96.19,668.1 100.82,667.49 105.45,668.1 110.08,667.49 114.71,666.89 119.34,667.49 123.97,666.28 128.6,666.89 133.23,665.68 137.86,664.46 142.49,665.07 147.12,662.65 151.75,663.25 156.38,660.83 161.01,661.43 165.64,658.4 170.27,659.62 174.9,653.13 179.53,658.4 184.16,660.22 188.79,657.8 193.42,648.71 198.05,649.92 202.68,642.04 207.31,635.38 211.94,649.92 216.57,659.01 221.2,662.04 225.83,645.68 230.46,638.1 235.09,642.95 239.72,642.35 244.35,651.74 248.98,660.22 253.61,663.86 258.24,630.83 262.87,649.31 267.5,640.83 272.13,646.59 276.76,641.44 281.39,650.83 286.02,595.68 290.65,631.74 295.28,623.56 299.91,638.1 304.54,630.83 309.17,635.07 313.8,656.89 318.43,656.59 323.06,630.23 327.69,637.19 332.32,645.38 336.95,647.8 341.58,641.74 346.21,657.19 350.84,648.4 355.47,644.77 360.1,642.95 364.73,651.13 369.36,640.83 373.99,637.5 378.62,659.92 383.25,660.83 387.88,632.35"/>
<circle cx="91.56" cy="668.1" r="2.2"/>
<circle cx="96.19" cy="668.1" r="2.2"/>
<circle cx="100.82" cy="667.49" r="2.2"/>
<circle cx="105.45" cy="668.1" r="2.2"/>
<circle cx="110.08" cy="667.49" r="2.2"/>
<circle cx="114.71" cy="666.89" r="2.2"/>
<circle cx="119.34" cy="667.49" r="2.2"/>
<circle cx="123.97" cy="666.28" r="2.2"/>
<circle cx="128.6" cy="666.89" r="2.2"/>
<circle cx="133.23" cy="665.68" r="2.2"/>
<circle cx="137.86" cy="664.46" r="2.2"/>
<circle cx="142.49" cy="665.07" r="2.2"/>
<circle cx="147.12" cy="662.65" r="2.2"/>
<circle cx="151.75" cy="663.25" r="2.2"/>
<circle cx="156.38" cy="660.83" r="2.2"/>
<circle cx="161.01" cy="661.43" r="2.2"/>
<circle cx="165.64" cy="658.4" r="2.2"/>
<circle cx="170.27" cy="659.62" r="2.2"/>
<circle cx="174.9" cy="653.13" r="2.2"/>
<circle cx="179.53" cy="658.4" r="2.2"/>
<circle cx="184.16" cy="660.22" r="2.2"/>
<circle cx="188.79" cy="657.8" r="2.2"/>
<circle cx="193.42" cy="648.71" r="2.2"/>
<circle cx="198.05" cy="649.92" r="2.2"/>
<circle cx="202.68" cy="642.04" r="2.2"/>
<circle cx="207.31" cy="635.38" r="2.2"/>
<circle cx="211.94" cy="649.92" r="2.2"/>
<circle cx="216.57" cy="659.01" r="2.2"/>
<circle cx="221.2" cy="662.04" r="2.2"/>
<circle cx="225.83" cy="645.68" r="2.2"/>
<circle cx="230.46" cy="638.1" r="2.2"/>
<circle cx="235.09" cy="642.95" r="2.2"/>
<circle cx="239.72" cy="642.35" r="2.2"/>
<circle cx="244.35" cy="651.74" r="2.2"/>
<circle cx="248.98" cy="660.22" r="2.2"/>
<circle cx="253.61" cy="663.86" r="2.2"/>
<circle cx="258.24" cy="630.83" r="2.2"/>
<circle cx="262.87" cy="649.31" r="2.2"/>
<circle cx="267.5" cy="640.83" r="2.2"/>
<circle cx="272.13" cy="646.59" r="2.2"/>
<circle cx="276.76" cy="641.44" r="2.2"/>
<circle cx="281.39" cy="650.83" r="2.2"/>
<circle cx="286.02" cy="595.68" r="2.2"/>
<circle cx="290.65" cy="631.74" r="2.2"/>
<circle cx="295.28" cy="623.56" r="2.2"/>
<circle cx="299.91" cy="638.1" r="2.2"/>
<circle cx="304.54" cy="630.83" r="2.2"/>
<circle cx="309.17" cy="635.07" r="2.2"/>
<circle cx="313.8" cy="656.89" r="2.2"/>
<circle cx="318.43" cy="656.59" r="2.2"/>
<circle cx="323.06" cy="630.23" r="2.2"/>
<circle cx="327.69" cy="637.19" r="2.2"/>
<circle cx="332.32" cy="645.38" r="2.2"/>
<circle cx="336.95" cy="647.8" r="2.2"/>
<circle cx="341.58" cy="641.74" r="2.2"/>
<circle cx="346.21" cy="657.19" r="2.2"/>
<circle cx="350.84" cy="648.4" r="2.2"/>
<circle cx="355.47" cy="644.77" r="2.2"/>
<circle cx="360.1" cy="642.95" r="2.2"/>
<circle cx="364.73" cy="651.13" r="2.2"/>
<circle cx="369.36" cy="640.83" r="2.2"/>
<circle cx="373.99" cy="637.5" r="2.2"/>
<circle cx="378.62" cy="659.92" r="2.2"/>
<circle cx="383.25" cy="660.83" r="2.2"/>
<circle cx="387.88" cy="632.35" r="2.2"/>
</g>
</g>
<g>
<clipPath id="c7"><rect x="406.5" y="519.5" width="317" height="146.9"/></clipPath>
<text class="ct" transform="translate(565.5,514.9) scale(0.89,1)" text-anchor="middle">Kansas</text>
<rect x="406.5" y="518.5" width="318" height="162.5" fill="#fff" stroke="#c4c4c4" stroke-width="1"/>
<text class="yl" transform="translate(417.2,669.25) scale(0.94,1)" text-anchor="end">0</text>
<line class="g" x1="419.2" x2="721.5" y1="643.05" y2="643.05"/>
<text class="yl" transform="translate(417.2,645.9) scale(0.94,1)" text-anchor="end">5</text>
<line class="g" x1="419.2" x2="721.5" y1="619.7" y2="619.7"/>
<text class="yl" transform="translate(417.2,622.55) scale(0.94,1)" text-anchor="end">10</text>
<line class="g" x1="419.2" x2="721.5" y1="596.35" y2="596.35"/>
<text class="yl" transform="translate(417.2,599.2) scale(0.94,1)" text-anchor="end">15</text>
<line class="g" x1="419.2" x2="721.5" y1="573" y2="573"/>
<text class="yl" transform="translate(417.2,575.85) scale(0.94,1)" text-anchor="end">20</text>
<line class="g" x1="419.2" x2="721.5" y1="549.65" y2="549.65"/>
<text class="yl" transform="translate(417.2,552.5) scale(0.94,1)" text-anchor="end">25</text>
<line class="g" x1="419.2" x2="721.5" y1="526.3" y2="526.3"/>
<text class="yl" transform="translate(417.2,529.15) scale(0.94,1)" text-anchor="end">30</text>
<g clip-path="url(#c7)">
<path class="ul dt" d="M420.7 652.53 L514.15 652.53"/>
<path class="ul" d="M518.6 594.48 L520.83 593.7 L523.05 592.92 L525.27 592.12 L527.5 591.32 L529.73 590.51 L531.95 589.69 L534.17 588.86 L536.4 588.02 L538.62 587.18 L540.85 586.32 L543.08 585.45 L545.3 584.58 L547.52 583.7 L549.75 582.8 L551.98 581.9 L554.2 580.98 L556.42 580.06 L558.65 579.13 L560.88 578.18 L563.1 577.23 L565.33 576.27 L567.55 575.29 L569.77 574.31 L572 573.31 L574.23 572.31 L576.45 571.29 L578.67 570.26 L580.9 569.22 L583.12 568.17 L585.35 567.11 L587.58 566.04 L589.8 564.95 L592.02 563.86 L594.25 562.75 L596.48 561.63 L598.7 560.5 L600.92 559.35 L603.15 558.19 L605.38 557.03 L607.6 555.84 L609.83 554.65 L612.05 553.44 L614.27 552.22 L616.5 550.99 L618.73 549.74 L620.95 548.48 L623.17 547.2 L625.4 545.91"/>
<path class="cl" d="M518.6 646.09 L520.83 645.86 L523.05 645.64 L525.27 645.41 L527.5 645.18 L529.73 644.95 L531.95 644.72 L534.17 644.48 L536.4 644.24 L538.62 644 L540.85 643.75 L543.08 643.51 L545.3 643.25 L547.52 643 L549.75 642.75 L551.98 642.49 L554.2 642.23 L556.42 641.96 L558.65 641.69 L560.88 641.42 L563.1 641.15 L565.33 640.88 L567.55 640.6 L569.77 640.31 L572 640.03 L574.23 639.74 L576.45 639.45 L578.67 639.16 L580.9 638.86 L583.12 638.56 L585.35 638.25 L587.58 637.94 L589.8 637.63 L592.02 637.32 L594.25 637 L596.48 636.68 L598.7 636.36 L600.92 636.03 L603.15 635.69 L605.38 635.36 L607.6 635.02 L609.83 634.68 L612.05 634.33 L614.27 633.98 L616.5 633.63 L618.73 633.27 L620.95 632.91 L623.17 632.54 L625.4 632.17"/>
<polyline class="dl" points="420.7,666.4 425.15,666.4 429.6,661.73 434.05,666.4 438.5,666.4 442.95,661.73 447.4,666.4 451.85,657.06 456.3,661.73 460.75,666.4 465.2,661.73 469.65,657.06 474.1,661.73 478.55,666.4 483,657.06 487.45,661.73 491.9,657.06 496.35,661.73 500.8,666.4 505.25,657.06 509.7,661.73 514.15,652.39 518.6,643.05 523.05,657.06 527.5,661.73 531.95,657.06 536.4,643.05 540.85,629.04 545.3,647.72 549.75,629.04 554.2,643.05 558.65,659.39 563.1,633.71 567.55,638.38 572,633.71 576.45,647.72 580.9,647.72 585.35,657.06 589.8,629.04 594.25,633.71 598.7,638.38 603.15,647.72 607.6,661.73 612.05,643.05 616.5,659.39 620.95,661.73 625.4,638.38 629.85,661.73 634.3,643.05 638.75,661.73 643.2,652.39 647.65,647.72 652.1,657.06 656.55,610.36 661,638.38 665.45,652.39 669.9,659.39 674.35,652.39 678.8,643.05 683.25,657.06 687.7,657.06 692.15,647.72 696.6,661.73 701.05,657.06 705.5,638.38 709.95,657.06 714.4,661.73 718.85,661.73 723.3,652.39"/>
<circle cx="420.7" cy="666.4" r="2.2"/>
<circle cx="425.15" cy="666.4" r="2.2"/>
<circle cx="429.6" cy="661.73" r="2.2"/>
<circle cx="434.05" cy="666.4" r="2.2"/>
<circle cx="438.5" cy="666.4" r="2.2"/>
<circle cx="442.95" cy="661.73" r="2.2"/>
<circle cx="447.4" cy="666.4" r="2.2"/>
<circle cx="451.85" cy="657.06" r="2.2"/>
<circle cx="456.3" cy="661.73" r="2.2"/>
<circle cx="460.75" cy="666.4" r="2.2"/>
<circle cx="465.2" cy="661.73" r="2.2"/>
<circle cx="469.65" cy="657.06" r="2.2"/>
<circle cx="474.1" cy="661.73" r="2.2"/>
<circle cx="478.55" cy="666.4" r="2.2"/>
<circle cx="483" cy="657.06" r="2.2"/>
<circle cx="487.45" cy="661.73" r="2.2"/>
<circle cx="491.9" cy="657.06" r="2.2"/>
<circle cx="496.35" cy="661.73" r="2.2"/>
<circle cx="500.8" cy="666.4" r="2.2"/>
<circle cx="505.25" cy="657.06" r="2.2"/>
<circle cx="509.7" cy="661.73" r="2.2"/>
<circle cx="514.15" cy="652.39" r="2.2"/>
<circle cx="518.6" cy="643.05" r="2.2"/>
<circle cx="523.05" cy="657.06" r="2.2"/>
<circle cx="527.5" cy="661.73" r="2.2"/>
<circle cx="531.95" cy="657.06" r="2.2"/>
<circle cx="536.4" cy="643.05" r="2.2"/>
<circle cx="540.85" cy="629.04" r="2.2"/>
<circle cx="545.3" cy="647.72" r="2.2"/>
<circle cx="549.75" cy="629.04" r="2.2"/>
<circle cx="554.2" cy="643.05" r="2.2"/>
<circle cx="558.65" cy="659.39" r="2.2"/>
<circle cx="563.1" cy="633.71" r="2.2"/>
<circle cx="567.55" cy="638.38" r="2.2"/>
<circle cx="572" cy="633.71" r="2.2"/>
<circle cx="576.45" cy="647.72" r="2.2"/>
<circle cx="580.9" cy="647.72" r="2.2"/>
<circle cx="585.35" cy="657.06" r="2.2"/>
<circle cx="589.8" cy="629.04" r="2.2"/>
<circle cx="594.25" cy="633.71" r="2.2"/>
<circle cx="598.7" cy="638.38" r="2.2"/>
<circle cx="603.15" cy="647.72" r="2.2"/>
<circle cx="607.6" cy="661.73" r="2.2"/>
<circle cx="612.05" cy="643.05" r="2.2"/>
<circle cx="616.5" cy="659.39" r="2.2"/>
<circle cx="620.95" cy="661.73" r="2.2"/>
<circle cx="625.4" cy="638.38" r="2.2"/>
<circle cx="629.85" cy="661.73" r="2.2"/>
<circle cx="634.3" cy="643.05" r="2.2"/>
<circle cx="638.75" cy="661.73" r="2.2"/>
<circle cx="643.2" cy="652.39" r="2.2"/>
<circle cx="647.65" cy="647.72" r="2.2"/>
<circle cx="652.1" cy="657.06" r="2.2"/>
<circle cx="656.55" cy="610.36" r="2.2"/>
<circle cx="661" cy="638.38" r="2.2"/>
<circle cx="665.45" cy="652.39" r="2.2"/>
<circle cx="669.9" cy="659.39" r="2.2"/>
<circle cx="674.35" cy="652.39" r="2.2"/>
<circle cx="678.8" cy="643.05" r="2.2"/>
<circle cx="683.25" cy="657.06" r="2.2"/>
<circle cx="687.7" cy="657.06" r="2.2"/>
<circle cx="692.15" cy="647.72" r="2.2"/>
<circle cx="696.6" cy="661.73" r="2.2"/>
<circle cx="701.05" cy="657.06" r="2.2"/>
<circle cx="705.5" cy="638.38" r="2.2"/>
<circle cx="709.95" cy="657.06" r="2.2"/>
<circle cx="714.4" cy="661.73" r="2.2"/>
<circle cx="718.85" cy="661.73" r="2.2"/>
<circle cx="723.3" cy="652.39" r="2.2"/>
</g>
</g>
<g>
<clipPath id="c8"><rect x="740.5" y="519.5" width="317" height="147.2"/></clipPath>
<text class="ct" transform="translate(899.5,514.9) scale(0.89,1)" text-anchor="middle">Kentucky</text>
<rect x="740.5" y="518.5" width="318" height="162.5" fill="#fff" stroke="#c4c4c4" stroke-width="1"/>
<text class="yl" transform="translate(751.2,669.55) scale(0.94,1)" text-anchor="end">0</text>
<line class="g" x1="753.2" x2="1055.5" y1="649.12" y2="649.12"/>
<text class="yl" transform="translate(751.2,651.97) scale(0.94,1)" text-anchor="end">5</text>
<line class="g" x1="753.2" x2="1055.5" y1="631.54" y2="631.54"/>
<text class="yl" transform="translate(751.2,634.39) scale(0.94,1)" text-anchor="end">10</text>
<line class="g" x1="753.2" x2="1055.5" y1="613.96" y2="613.96"/>
<text class="yl" transform="translate(751.2,616.81) scale(0.94,1)" text-anchor="end">15</text>
<line class="g" x1="753.2" x2="1055.5" y1="596.38" y2="596.38"/>
<text class="yl" transform="translate(751.2,599.23) scale(0.94,1)" text-anchor="end">20</text>
<line class="g" x1="753.2" x2="1055.5" y1="578.8" y2="578.8"/>
<text class="yl" transform="translate(751.2,581.65) scale(0.94,1)" text-anchor="end">25</text>
<line class="g" x1="753.2" x2="1055.5" y1="561.22" y2="561.22"/>
<text class="yl" transform="translate(751.2,564.07) scale(0.94,1)" text-anchor="end">30</text>
<line class="g" x1="753.2" x2="1055.5" y1="543.64" y2="543.64"/>
<text class="yl" transform="translate(751.2,546.49) scale(0.94,1)" text-anchor="end">35</text>
<line class="g" x1="753.2" x2="1055.5" y1="526.06" y2="526.06"/>
<text class="yl" transform="translate(751.2,528.91) scale(0.94,1)" text-anchor="end">40</text>
<g clip-path="url(#c8)">
<path class="ul" d="M821.5 581.61 L823.75 580.75 L826 579.89 L828.25 579.01 L830.5 578.12 L832.75 577.23 L835 576.32 L837.25 575.41 L839.5 574.49 L841.75 573.56 L844 572.62 L846.25 571.67 L848.51 570.71 L850.76 569.74 L853.01 568.76 L855.26 567.77 L857.51 566.77 L859.76 565.76 L862.01 564.74 L864.26 563.71 L866.51 562.67 L868.76 561.62 L871.01 560.56 L873.26 559.48 L875.51 558.4 L877.76 557.31 L880.01 556.2 L882.26 555.09 L884.51 553.96 L886.76 552.82 L889.01 551.67 L891.26 550.51 L893.51 549.33 L895.76 548.15 L898.01 546.95 L900.27 545.74 L902.52 544.52 L904.77 543.29 L907.02 542.04 L909.27 540.78 L911.52 539.51 L913.77 538.22 L916.02 536.93 L918.27 535.61 L920.52 534.29 L922.77 532.95 L925.02 531.6 L927.27 530.24 L929.52 528.86 L931.77 527.47 L934.02 526.06"/>
<path class="cl" d="M821.5 646.52 L823.72 646.32 L825.93 646.11 L828.14 645.91 L830.36 645.7 L832.58 645.49 L834.79 645.28 L837 645.06 L839.22 644.84 L841.44 644.63 L843.65 644.4 L845.87 644.18 L848.08 643.96 L850.3 643.73 L852.51 643.5 L854.73 643.27 L856.94 643.03 L859.15 642.79 L861.37 642.55 L863.59 642.31 L865.8 642.07 L868.01 641.82 L870.23 641.57 L872.45 641.32 L874.66 641.07 L876.88 640.81 L879.09 640.55 L881.31 640.29 L883.52 640.03 L885.74 639.76 L887.95 639.49 L890.16 639.22 L892.38 638.94 L894.6 638.66 L896.81 638.38 L899.02 638.1 L901.24 637.81 L903.46 637.52 L905.67 637.23 L907.88 636.94 L910.1 636.64 L912.32 636.34 L914.53 636.03 L916.75 635.73 L918.96 635.42 L921.17 635.1 L923.39 634.79 L925.61 634.47 L927.82 634.15 L930.03 633.82 L932.25 633.49 L934.47 633.16 L936.68 632.82 L938.89 632.48 L941.11 632.14 L943.33 631.79 L945.54 631.45 L947.75 631.09 L949.97 630.74 L952.18 630.38 L954.4 630.01 L956.62 629.65 L958.83 629.27 L961.05 628.9 L963.26 628.52 L965.48 628.14 L967.69 627.75 L969.9 627.36 L972.12 626.97"/>
<path class="cl" d="M980.98 639.98 L983.19 640.15 L985.41 640.32 L987.62 640.49 L989.84 640.66 L992.06 640.83 L994.27 641 L996.49 641.16 L998.7 641.33 L1000.91 641.49 L1003.13 641.65 L1005.35 641.81 L1007.56 641.97 L1009.77 642.13 L1011.99 642.29 L1014.21 642.45 L1016.42 642.6 L1018.63 642.76 L1020.85 642.91 L1023.07 643.07 L1025.28 643.22 L1027.49 643.37 L1029.71 643.52 L1031.92 643.67 L1034.14 643.82 L1036.36 643.97 L1038.57 644.11 L1040.79 644.26 L1043 644.4 L1045.21 644.55 L1047.43 644.69 L1049.64 644.83 L1051.86 644.97 L1054.08 645.11 L1056.29 645.25"/>
<polyline class="dl" points="759.48,666.7 763.91,663.18 768.34,666.7 772.77,663.18 777.2,663.18 781.63,659.67 786.06,663.18 790.49,666.7 794.92,659.67 799.35,663.18 803.78,654.75 808.21,659.67 812.64,663.18 817.07,659.67 821.5,642.09 825.93,663.18 830.36,617.48 834.79,663.18 839.22,645.6 843.65,652.64 848.08,638.57 852.51,617.48 856.94,642.09 861.37,628.02 865.8,645.6 870.23,652.64 874.66,652.64 879.09,638.57 883.52,635.06 887.95,635.06 892.38,642.09 896.81,635.06 901.24,649.12 905.67,652.64 910.1,645.6 914.53,606.93 918.96,620.99 923.39,635.06 927.82,635.06 932.25,649.12 936.68,656.15 941.11,649.12 945.54,613.96 949.97,652.64 954.4,649.12 958.83,638.57 963.26,652.64 967.69,652.64 972.12,628.02 976.55,628.02 980.98,638.57 985.41,610.44 989.84,659.67 994.27,638.57 998.7,663.18 1003.13,620.99 1007.56,638.57 1011.99,661.43 1016.42,642.09 1020.85,659.67 1025.28,654.75 1029.71,666.7 1034.14,638.57 1038.57,613.96"/>
<circle cx="759.48" cy="666.7" r="2.2"/>
<circle cx="763.91" cy="663.18" r="2.2"/>
<circle cx="768.34" cy="666.7" r="2.2"/>
<circle cx="772.77" cy="663.18" r="2.2"/>
<circle cx="777.2" cy="663.18" r="2.2"/>
<circle cx="781.63" cy="659.67" r="2.2"/>
<circle cx="786.06" cy="663.18" r="2.2"/>
<circle cx="790.49" cy="666.7" r="2.2"/>
<circle cx="794.92" cy="659.67" r="2.2"/>
<circle cx="799.35" cy="663.18" r="2.2"/>
<circle cx="803.78" cy="654.75" r="2.2"/>
<circle cx="808.21" cy="659.67" r="2.2"/>
<circle cx="812.64" cy="663.18" r="2.2"/>
<circle cx="817.07" cy="659.67" r="2.2"/>
<circle cx="821.5" cy="642.09" r="2.2"/>
<circle cx="825.93" cy="663.18" r="2.2"/>
<circle cx="830.36" cy="617.48" r="2.2"/>
<circle cx="834.79" cy="663.18" r="2.2"/>
<circle cx="839.22" cy="645.6" r="2.2"/>
<circle cx="843.65" cy="652.64" r="2.2"/>
<circle cx="848.08" cy="638.57" r="2.2"/>
<circle cx="852.51" cy="617.48" r="2.2"/>
<circle cx="856.94" cy="642.09" r="2.2"/>
<circle cx="861.37" cy="628.02" r="2.2"/>
<circle cx="865.8" cy="645.6" r="2.2"/>
<circle cx="870.23" cy="652.64" r="2.2"/>
<circle cx="874.66" cy="652.64" r="2.2"/>
<circle cx="879.09" cy="638.57" r="2.2"/>
<circle cx="883.52" cy="635.06" r="2.2"/>
<circle cx="887.95" cy="635.06" r="2.2"/>
<circle cx="892.38" cy="642.09" r="2.2"/>
<circle cx="896.81" cy="635.06" r="2.2"/>
<circle cx="901.24" cy="649.12" r="2.2"/>
<circle cx="905.67" cy="652.64" r="2.2"/>
<circle cx="910.1" cy="645.6" r="2.2"/>
<circle cx="914.53" cy="606.93" r="2.2"/>
<circle cx="918.96" cy="620.99" r="2.2"/>
<circle cx="923.39" cy="635.06" r="2.2"/>
<circle cx="927.82" cy="635.06" r="2.2"/>
<circle cx="932.25" cy="649.12" r="2.2"/>
<circle cx="936.68" cy="656.15" r="2.2"/>
<circle cx="941.11" cy="649.12" r="2.2"/>
<circle cx="945.54" cy="613.96" r="2.2"/>
<circle cx="949.97" cy="652.64" r="2.2"/>
<circle cx="954.4" cy="649.12" r="2.2"/>
<circle cx="958.83" cy="638.57" r="2.2"/>
<circle cx="963.26" cy="652.64" r="2.2"/>
<circle cx="967.69" cy="652.64" r="2.2"/>
<circle cx="972.12" cy="628.02" r="2.2"/>
<circle cx="976.55" cy="628.02" r="2.2"/>
<circle cx="980.98" cy="638.57" r="2.2"/>
<circle cx="985.41" cy="610.44" r="2.2"/>
<circle cx="989.84" cy="659.67" r="2.2"/>
<circle cx="994.27" cy="638.57" r="2.2"/>
<circle cx="998.7" cy="663.18" r="2.2"/>
<circle cx="1003.13" cy="620.99" r="2.2"/>
<circle cx="1007.56" cy="638.57" r="2.2"/>
<circle cx="1011.99" cy="661.43" r="2.2"/>
<circle cx="1016.42" cy="642.09" r="2.2"/>
<circle cx="1020.85" cy="659.67" r="2.2"/>
<circle cx="1025.28" cy="654.75" r="2.2"/>
<circle cx="1029.71" cy="666.7" r="2.2"/>
<circle cx="1034.14" cy="638.57" r="2.2"/>
<circle cx="1038.57" cy="613.96" r="2.2"/>
</g>
</g>
</svg>
</body>
</html>
